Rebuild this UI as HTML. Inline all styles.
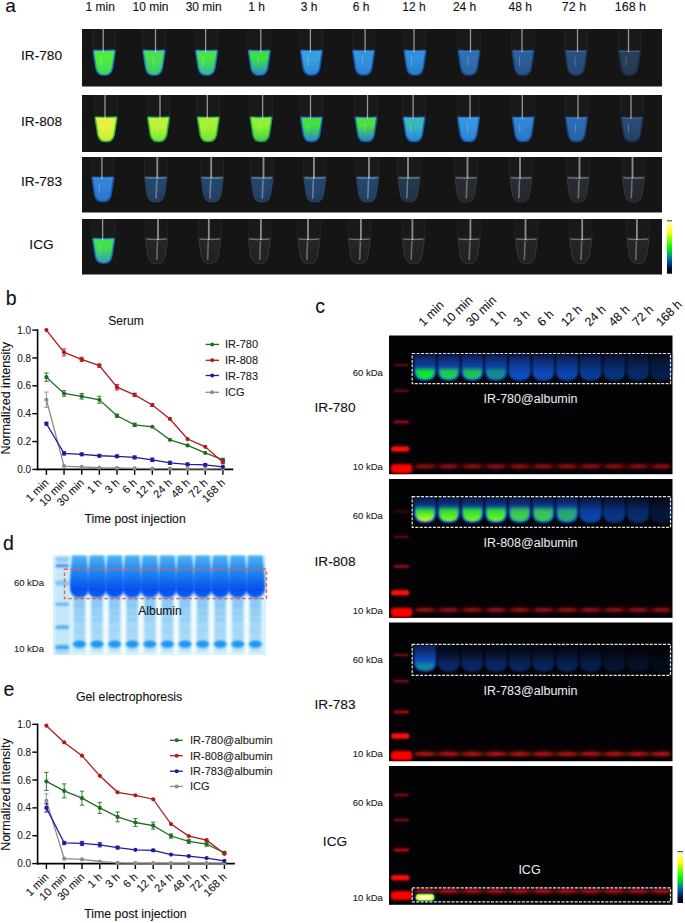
<!DOCTYPE html>
<html><head><meta charset="utf-8"><style>
html,body{margin:0;padding:0;background:#fff;}
body{width:685px;height:923px;overflow:hidden;}
svg{display:block;font-family:"Liberation Sans", sans-serif;}
</style></head><body>
<svg width="685" height="923" viewBox="0 0 685 923">
<defs><filter id="blur1" x="-20%" y="-20%" width="140%" height="140%"><feGaussianBlur stdDeviation="0.9"/></filter><filter id="blur05" x="-20%" y="-20%" width="140%" height="140%"><feGaussianBlur stdDeviation="0.5"/></filter><filter id="blur07" x="-30%" y="-80%" width="160%" height="260%"><feGaussianBlur stdDeviation="0.95"/></filter><filter id="blur2" x="-30%" y="-150%" width="160%" height="400%"><feGaussianBlur stdDeviation="1.6"/></filter><linearGradient id="g0_0" x1="0" y1="0" x2="0" y2="1"><stop offset="0" stop-color="#50ec40"/><stop offset="0.35" stop-color="#50ec40"/><stop offset="1" stop-color="#40d850"/></linearGradient><linearGradient id="g0_1" x1="0" y1="0" x2="0" y2="1"><stop offset="0" stop-color="#48e050"/><stop offset="0.35" stop-color="#48e050"/><stop offset="1" stop-color="#38c870"/></linearGradient><linearGradient id="g0_2" x1="0" y1="0" x2="0" y2="1"><stop offset="0" stop-color="#48e448"/><stop offset="0.35" stop-color="#48e448"/><stop offset="1" stop-color="#30b8a0"/></linearGradient><linearGradient id="g0_3" x1="0" y1="0" x2="0" y2="1"><stop offset="0" stop-color="#38e040"/><stop offset="0.35" stop-color="#38e040"/><stop offset="1" stop-color="#2a8ad0"/></linearGradient><linearGradient id="g0_4" x1="0" y1="0" x2="0" y2="1"><stop offset="0" stop-color="#3aa0e0"/><stop offset="0.35" stop-color="#3aa0e0"/><stop offset="1" stop-color="#2a84d4"/></linearGradient><linearGradient id="g0_5" x1="0" y1="0" x2="0" y2="1"><stop offset="0" stop-color="#3494dc"/><stop offset="0.35" stop-color="#3494dc"/><stop offset="1" stop-color="#2a80d0"/></linearGradient><linearGradient id="g0_6" x1="0" y1="0" x2="0" y2="1"><stop offset="0" stop-color="#3090dc"/><stop offset="0.35" stop-color="#3090dc"/><stop offset="1" stop-color="#2a7ccc"/></linearGradient><linearGradient id="g0_7" x1="0" y1="0" x2="0" y2="1"><stop offset="0" stop-color="#2e70b0"/><stop offset="0.35" stop-color="#2e70b0"/><stop offset="1" stop-color="#2a64a4"/></linearGradient><linearGradient id="g0_8" x1="0" y1="0" x2="0" y2="1"><stop offset="0" stop-color="#2c5e98"/><stop offset="0.35" stop-color="#2c5e98"/><stop offset="1" stop-color="#28548c"/></linearGradient><linearGradient id="g0_9" x1="0" y1="0" x2="0" y2="1"><stop offset="0" stop-color="#2a5080"/><stop offset="0.35" stop-color="#2a5080"/><stop offset="1" stop-color="#264874"/></linearGradient><linearGradient id="g0_10" x1="0" y1="0" x2="0" y2="1"><stop offset="0" stop-color="#283e5c"/><stop offset="0.35" stop-color="#283e5c"/><stop offset="1" stop-color="#243852"/></linearGradient><linearGradient id="g1_0" x1="0" y1="0" x2="0" y2="1"><stop offset="0" stop-color="#e8f040"/><stop offset="0.35" stop-color="#e8f040"/><stop offset="1" stop-color="#c8f030"/></linearGradient><linearGradient id="g1_1" x1="0" y1="0" x2="0" y2="1"><stop offset="0" stop-color="#c0f038"/><stop offset="0.35" stop-color="#c0f038"/><stop offset="1" stop-color="#70e838"/></linearGradient><linearGradient id="g1_2" x1="0" y1="0" x2="0" y2="1"><stop offset="0" stop-color="#a8f030"/><stop offset="0.35" stop-color="#a8f030"/><stop offset="1" stop-color="#70e838"/></linearGradient><linearGradient id="g1_3" x1="0" y1="0" x2="0" y2="1"><stop offset="0" stop-color="#90f030"/><stop offset="0.35" stop-color="#90f030"/><stop offset="1" stop-color="#40d040"/></linearGradient><linearGradient id="g1_4" x1="0" y1="0" x2="0" y2="1"><stop offset="0" stop-color="#40e040"/><stop offset="0.35" stop-color="#40e040"/><stop offset="1" stop-color="#2a88c8"/></linearGradient><linearGradient id="g1_5" x1="0" y1="0" x2="0" y2="1"><stop offset="0" stop-color="#48e040"/><stop offset="0.35" stop-color="#48e040"/><stop offset="1" stop-color="#2a80c8"/></linearGradient><linearGradient id="g1_6" x1="0" y1="0" x2="0" y2="1"><stop offset="0" stop-color="#38b8b8"/><stop offset="0.35" stop-color="#38b8b8"/><stop offset="1" stop-color="#2a84d8"/></linearGradient><linearGradient id="g1_7" x1="0" y1="0" x2="0" y2="1"><stop offset="0" stop-color="#3494e0"/><stop offset="0.35" stop-color="#3494e0"/><stop offset="1" stop-color="#2a80d4"/></linearGradient><linearGradient id="g1_8" x1="0" y1="0" x2="0" y2="1"><stop offset="0" stop-color="#3084d4"/><stop offset="0.35" stop-color="#3084d4"/><stop offset="1" stop-color="#2a74c4"/></linearGradient><linearGradient id="g1_9" x1="0" y1="0" x2="0" y2="1"><stop offset="0" stop-color="#2c6cb4"/><stop offset="0.35" stop-color="#2c6cb4"/><stop offset="1" stop-color="#2860a4"/></linearGradient><linearGradient id="g1_10" x1="0" y1="0" x2="0" y2="1"><stop offset="0" stop-color="#2a4c74"/><stop offset="0.35" stop-color="#2a4c74"/><stop offset="1" stop-color="#243e60"/></linearGradient><linearGradient id="g2_0" x1="0" y1="0" x2="0" y2="1"><stop offset="0" stop-color="#3284d8"/><stop offset="0.35" stop-color="#3284d8"/><stop offset="1" stop-color="#2a74cc"/></linearGradient><linearGradient id="g2_1" x1="0" y1="0" x2="0" y2="1"><stop offset="0" stop-color="#22466e"/><stop offset="0.35" stop-color="#22466e"/><stop offset="1" stop-color="#203e62"/></linearGradient><linearGradient id="g2_2" x1="0" y1="0" x2="0" y2="1"><stop offset="0" stop-color="#22466e"/><stop offset="0.35" stop-color="#22466e"/><stop offset="1" stop-color="#203e62"/></linearGradient><linearGradient id="g2_3" x1="0" y1="0" x2="0" y2="1"><stop offset="0" stop-color="#22466e"/><stop offset="0.35" stop-color="#22466e"/><stop offset="1" stop-color="#203e62"/></linearGradient><linearGradient id="g2_4" x1="0" y1="0" x2="0" y2="1"><stop offset="0" stop-color="#22466e"/><stop offset="0.35" stop-color="#22466e"/><stop offset="1" stop-color="#203e62"/></linearGradient><linearGradient id="g2_5" x1="0" y1="0" x2="0" y2="1"><stop offset="0" stop-color="#22466e"/><stop offset="0.35" stop-color="#22466e"/><stop offset="1" stop-color="#203e62"/></linearGradient><linearGradient id="g2_6" x1="0" y1="0" x2="0" y2="1"><stop offset="0" stop-color="#243850"/><stop offset="0.35" stop-color="#243850"/><stop offset="1" stop-color="#203046"/></linearGradient><linearGradient id="g2_7" x1="0" y1="0" x2="0" y2="1"><stop offset="0" stop-color="#272c32"/><stop offset="0.35" stop-color="#272c32"/><stop offset="1" stop-color="#23272c"/></linearGradient><linearGradient id="g2_8" x1="0" y1="0" x2="0" y2="1"><stop offset="0" stop-color="#272c32"/><stop offset="0.35" stop-color="#272c32"/><stop offset="1" stop-color="#23272c"/></linearGradient><linearGradient id="g2_9" x1="0" y1="0" x2="0" y2="1"><stop offset="0" stop-color="#272c32"/><stop offset="0.35" stop-color="#272c32"/><stop offset="1" stop-color="#23272c"/></linearGradient><linearGradient id="g2_10" x1="0" y1="0" x2="0" y2="1"><stop offset="0" stop-color="#272c32"/><stop offset="0.35" stop-color="#272c32"/><stop offset="1" stop-color="#23272c"/></linearGradient><linearGradient id="g3_0" x1="0" y1="0" x2="0" y2="1"><stop offset="0" stop-color="#40e050"/><stop offset="0.35" stop-color="#40e050"/><stop offset="1" stop-color="#30a0b0"/></linearGradient><linearGradient id="g3_1" x1="0" y1="0" x2="0" y2="1"><stop offset="0" stop-color="#242528"/><stop offset="0.35" stop-color="#242528"/><stop offset="1" stop-color="#212224"/></linearGradient><linearGradient id="g3_2" x1="0" y1="0" x2="0" y2="1"><stop offset="0" stop-color="#242528"/><stop offset="0.35" stop-color="#242528"/><stop offset="1" stop-color="#212224"/></linearGradient><linearGradient id="g3_3" x1="0" y1="0" x2="0" y2="1"><stop offset="0" stop-color="#242528"/><stop offset="0.35" stop-color="#242528"/><stop offset="1" stop-color="#212224"/></linearGradient><linearGradient id="g3_4" x1="0" y1="0" x2="0" y2="1"><stop offset="0" stop-color="#242528"/><stop offset="0.35" stop-color="#242528"/><stop offset="1" stop-color="#212224"/></linearGradient><linearGradient id="g3_5" x1="0" y1="0" x2="0" y2="1"><stop offset="0" stop-color="#242528"/><stop offset="0.35" stop-color="#242528"/><stop offset="1" stop-color="#212224"/></linearGradient><linearGradient id="g3_6" x1="0" y1="0" x2="0" y2="1"><stop offset="0" stop-color="#242528"/><stop offset="0.35" stop-color="#242528"/><stop offset="1" stop-color="#212224"/></linearGradient><linearGradient id="g3_7" x1="0" y1="0" x2="0" y2="1"><stop offset="0" stop-color="#242528"/><stop offset="0.35" stop-color="#242528"/><stop offset="1" stop-color="#212224"/></linearGradient><linearGradient id="g3_8" x1="0" y1="0" x2="0" y2="1"><stop offset="0" stop-color="#242528"/><stop offset="0.35" stop-color="#242528"/><stop offset="1" stop-color="#212224"/></linearGradient><linearGradient id="g3_9" x1="0" y1="0" x2="0" y2="1"><stop offset="0" stop-color="#242528"/><stop offset="0.35" stop-color="#242528"/><stop offset="1" stop-color="#212224"/></linearGradient><linearGradient id="g3_10" x1="0" y1="0" x2="0" y2="1"><stop offset="0" stop-color="#242528"/><stop offset="0.35" stop-color="#242528"/><stop offset="1" stop-color="#212224"/></linearGradient><linearGradient id="cbar" x1="0" y1="0" x2="0" y2="1"><stop offset="0" stop-color="#fffff0"/><stop offset="0.22" stop-color="#ffff00"/><stop offset="0.5" stop-color="#00ff00"/><stop offset="0.66" stop-color="#00a070"/><stop offset="0.76" stop-color="#0050b0"/><stop offset="0.9" stop-color="#001040"/><stop offset="1" stop-color="#000000"/></linearGradient><linearGradient id="dband" x1="0" y1="0" x2="0" y2="1"><stop offset="0" stop-color="#50b2f2"/><stop offset="0.25" stop-color="#3094f0"/><stop offset="0.5" stop-color="#1a78f0"/><stop offset="0.8" stop-color="#0650ee"/><stop offset="1" stop-color="#0a5af0"/></linearGradient><linearGradient id="dlow" x1="0" y1="0" x2="0" y2="1"><stop offset="0" stop-color="#64b8f2"/><stop offset="0.15" stop-color="#90ccf4"/><stop offset="0.5" stop-color="#a6d8f6"/><stop offset="0.75" stop-color="#a8daf6"/><stop offset="1" stop-color="#c0e6f8"/></linearGradient><filter id="dblur" x="-30%" y="-10%" width="160%" height="120%"><feGaussianBlur stdDeviation="0.8"/></filter><filter id="lblur" x="-20%" y="-20%" width="140%" height="140%"><feGaussianBlur stdDeviation="1.0"/></filter><linearGradient id="laneg2" x1="0" y1="0" x2="0" y2="1"><stop offset="0" stop-color="#081a40"/><stop offset="0.3" stop-color="#0a3284"/><stop offset="0.5" stop-color="#0a4cc4"/><stop offset="0.8" stop-color="#0a56d0"/><stop offset="1" stop-color="#0a4cc0"/></linearGradient><linearGradient id="laneg3" x1="0" y1="0" x2="0" y2="1"><stop offset="0" stop-color="#030610"/><stop offset="0.35" stop-color="#081a44"/><stop offset="0.7" stop-color="#0a3e9c"/><stop offset="1" stop-color="#0a40a4"/></linearGradient><linearGradient id="laneg" x1="0" y1="0" x2="0" y2="1"><stop offset="0" stop-color="#081c48"/><stop offset="0.3" stop-color="#0a3688"/><stop offset="0.6" stop-color="#0a4cc0"/><stop offset="0.8" stop-color="#0a54cc"/><stop offset="1" stop-color="#0a4cc0"/></linearGradient><linearGradient id="gg0_0" x1="0" y1="0" x2="0" y2="1"><stop offset="0" stop-color="#10f020" stop-opacity="0"/><stop offset="0.35" stop-color="#10f020" stop-opacity="0.9"/><stop offset="1" stop-color="#10f020"/></linearGradient><linearGradient id="gg0_1" x1="0" y1="0" x2="0" y2="1"><stop offset="0" stop-color="#20ec30" stop-opacity="0"/><stop offset="0.35" stop-color="#20ec30" stop-opacity="0.9"/><stop offset="1" stop-color="#20ec30"/></linearGradient><linearGradient id="gg0_2" x1="0" y1="0" x2="0" y2="1"><stop offset="0" stop-color="#20e830" stop-opacity="0"/><stop offset="0.35" stop-color="#20e830" stop-opacity="0.9"/><stop offset="1" stop-color="#20e830"/></linearGradient><linearGradient id="gg0_3" x1="0" y1="0" x2="0" y2="1"><stop offset="0" stop-color="#20d040" stop-opacity="0"/><stop offset="0.35" stop-color="#20d040" stop-opacity="0.9"/><stop offset="1" stop-color="#20d040"/></linearGradient><linearGradient id="gg1_0" x1="0" y1="0" x2="0" y2="1"><stop offset="0" stop-color="#30f020" stop-opacity="0"/><stop offset="0.35" stop-color="#30f020" stop-opacity="0.9"/><stop offset="1" stop-color="#e0fa18"/></linearGradient><linearGradient id="gg1_1" x1="0" y1="0" x2="0" y2="1"><stop offset="0" stop-color="#30f020" stop-opacity="0"/><stop offset="0.35" stop-color="#30f020" stop-opacity="0.9"/><stop offset="1" stop-color="#90f818"/></linearGradient><linearGradient id="gg1_2" x1="0" y1="0" x2="0" y2="1"><stop offset="0" stop-color="#30f020" stop-opacity="0"/><stop offset="0.35" stop-color="#30f020" stop-opacity="0.9"/><stop offset="1" stop-color="#80f818"/></linearGradient><linearGradient id="gg1_3" x1="0" y1="0" x2="0" y2="1"><stop offset="0" stop-color="#30f020" stop-opacity="0"/><stop offset="0.35" stop-color="#30f020" stop-opacity="0.9"/><stop offset="1" stop-color="#80f818"/></linearGradient><linearGradient id="gg1_4" x1="0" y1="0" x2="0" y2="1"><stop offset="0" stop-color="#48ec28" stop-opacity="0"/><stop offset="0.35" stop-color="#48ec28" stop-opacity="0.9"/><stop offset="1" stop-color="#48ec28"/></linearGradient><linearGradient id="gg1_5" x1="0" y1="0" x2="0" y2="1"><stop offset="0" stop-color="#48ec28" stop-opacity="0"/><stop offset="0.35" stop-color="#48ec28" stop-opacity="0.9"/><stop offset="1" stop-color="#48ec28"/></linearGradient><linearGradient id="gg1_6" x1="0" y1="0" x2="0" y2="1"><stop offset="0" stop-color="#38e038" stop-opacity="0"/><stop offset="0.35" stop-color="#38e038" stop-opacity="0.9"/><stop offset="1" stop-color="#38e038"/></linearGradient><linearGradient id="gg2_0" x1="0" y1="0" x2="0" y2="1"><stop offset="0" stop-color="#18b070" stop-opacity="0"/><stop offset="0.35" stop-color="#18b070" stop-opacity="0.9"/><stop offset="1" stop-color="#18b070"/></linearGradient><radialGradient id="icg" cx="0.5" cy="0.5" r="0.5"><stop offset="0" stop-color="#ffffd0"/><stop offset="0.45" stop-color="#f0ff20"/><stop offset="0.75" stop-color="#30e020"/><stop offset="1" stop-color="#0040a0" stop-opacity="0"/></radialGradient></defs>
<text x="5.3" y="11.9" font-size="19" text-anchor="start" fill="#111" stroke="#111" stroke-width="0.1" >a</text>
<text x="100.2" y="11" font-size="12" text-anchor="middle" fill="#111" stroke="#111" stroke-width="0.1" >1 min</text>
<text x="150.5" y="11" font-size="12" text-anchor="middle" fill="#111" stroke="#111" stroke-width="0.1" >10 min</text>
<text x="203.7" y="11" font-size="12" text-anchor="middle" fill="#111" stroke="#111" stroke-width="0.1" >30 min</text>
<text x="256.7" y="11" font-size="12" text-anchor="middle" fill="#111" stroke="#111" stroke-width="0.1" >1 h</text>
<text x="309" y="11" font-size="12" text-anchor="middle" fill="#111" stroke="#111" stroke-width="0.1" >3 h</text>
<text x="361.2" y="11" font-size="12" text-anchor="middle" fill="#111" stroke="#111" stroke-width="0.1" >6 h</text>
<text x="414" y="11" font-size="12" text-anchor="middle" fill="#111" stroke="#111" stroke-width="0.1" >12 h</text>
<text x="464.6" y="11" font-size="12" text-anchor="middle" fill="#111" stroke="#111" stroke-width="0.1" >24 h</text>
<text x="520.2" y="11" font-size="12" text-anchor="middle" fill="#111" stroke="#111" stroke-width="0.1" >48 h</text>
<text x="574" y="11" font-size="12.5" text-anchor="middle" fill="#111" stroke="#111" stroke-width="0.1" >72 h</text>
<text x="630.4" y="11" font-size="12.5" text-anchor="middle" fill="#111" stroke="#111" stroke-width="0.1" >168 h</text>
<text x="41.5" y="60.4" font-size="13.7" text-anchor="middle" fill="#111" stroke="#111" stroke-width="0.1" >IR-780</text>
<text x="41.5" y="125.6" font-size="13.7" text-anchor="middle" fill="#111" stroke="#111" stroke-width="0.1" >IR-808</text>
<text x="41.5" y="186" font-size="13.7" text-anchor="middle" fill="#111" stroke="#111" stroke-width="0.1" >IR-783</text>
<text x="41.5" y="249" font-size="13.7" text-anchor="middle" fill="#111" stroke="#111" stroke-width="0.1" >ICG</text>
<rect x="82" y="29" width="580" height="57.5" fill="#151515"/>
<path d="M92.4,29 L92.4,50 L116.0,50 L116.0,29 Z" fill="#ffffff" opacity="0.02"/>
<line x1="92.9" y1="29" x2="92.9" y2="52" stroke="#fff" stroke-opacity="0.04" stroke-width="1.2"/>
<line x1="115.5" y1="29" x2="115.5" y2="52" stroke="#fff" stroke-opacity="0.04" stroke-width="1.2"/>
<g filter="url(#blur05)"><path d="M94.60000000000001,50.3 Q104.2,51.099999999999994 113.8,50.3 Q115.0,50.3 114.9,51.8 L112.4,68 Q110.8,75.3 104.2,75 Q97.60000000000001,75.3 96.0,68 L93.5,51.8 Q93.4,50.3 94.60000000000001,50.3 Z" fill="url(#g0_0)" stroke="#2080d0" stroke-width="1.7" stroke-opacity="0.85"/>
<path d="M94.4,51.199999999999996 Q104.2,52.0 114.0,51.199999999999996" fill="none" stroke="#ffffff" stroke-opacity="0.2" stroke-width="1"/></g>
<line x1="103.2" y1="29" x2="103.2" y2="52" stroke="#ffffff" stroke-opacity="0.55" stroke-width="1.3"/>
<line x1="100.7" y1="57" x2="100.7" y2="66" stroke="#ffffff" stroke-opacity="0.25" stroke-width="0.9"/>
<path d="M142.2,29 L142.2,50 L165.8,50 L165.8,29 Z" fill="#ffffff" opacity="0.02"/>
<line x1="142.7" y1="29" x2="142.7" y2="52" stroke="#fff" stroke-opacity="0.04" stroke-width="1.2"/>
<line x1="165.3" y1="29" x2="165.3" y2="52" stroke="#fff" stroke-opacity="0.04" stroke-width="1.2"/>
<g filter="url(#blur05)"><path d="M144.39999999999998,50.3 Q154,51.099999999999994 163.60000000000002,50.3 Q164.8,50.3 164.70000000000002,51.8 L162.20000000000002,68 Q160.60000000000002,75.3 154,75 Q147.39999999999998,75.3 145.79999999999998,68 L143.29999999999998,51.8 Q143.2,50.3 144.39999999999998,50.3 Z" fill="url(#g0_1)" stroke="#2080d0" stroke-width="1.7" stroke-opacity="0.85"/>
<path d="M144.2,51.199999999999996 Q154,52.0 163.8,51.199999999999996" fill="none" stroke="#ffffff" stroke-opacity="0.2" stroke-width="1"/></g>
<line x1="155.5" y1="29" x2="155.5" y2="52" stroke="#ffffff" stroke-opacity="0.55" stroke-width="1.3"/>
<line x1="153.0" y1="57" x2="153.0" y2="66" stroke="#ffffff" stroke-opacity="0.25" stroke-width="0.9"/>
<path d="M194.79999999999998,29 L194.79999999999998,50 L218.4,50 L218.4,29 Z" fill="#ffffff" opacity="0.02"/>
<line x1="195.29999999999998" y1="29" x2="195.29999999999998" y2="52" stroke="#fff" stroke-opacity="0.04" stroke-width="1.2"/>
<line x1="217.9" y1="29" x2="217.9" y2="52" stroke="#fff" stroke-opacity="0.04" stroke-width="1.2"/>
<g filter="url(#blur05)"><path d="M196.99999999999997,50.3 Q206.6,51.099999999999994 216.20000000000002,50.3 Q217.4,50.3 217.3,51.8 L214.8,68 Q213.20000000000002,75.3 206.6,75 Q199.99999999999997,75.3 198.39999999999998,68 L195.89999999999998,51.8 Q195.79999999999998,50.3 196.99999999999997,50.3 Z" fill="url(#g0_2)" stroke="#2078d0" stroke-width="1.7" stroke-opacity="0.85"/>
<path d="M196.79999999999998,51.199999999999996 Q206.6,52.0 216.4,51.199999999999996" fill="none" stroke="#ffffff" stroke-opacity="0.2" stroke-width="1"/></g>
<line x1="205.6" y1="29" x2="205.6" y2="52" stroke="#ffffff" stroke-opacity="0.55" stroke-width="1.3"/>
<line x1="203.1" y1="57" x2="203.1" y2="66" stroke="#ffffff" stroke-opacity="0.25" stroke-width="0.9"/>
<path d="M247.5,29 L247.5,50 L271.1,50 L271.1,29 Z" fill="#ffffff" opacity="0.02"/>
<line x1="248.0" y1="29" x2="248.0" y2="52" stroke="#fff" stroke-opacity="0.04" stroke-width="1.2"/>
<line x1="270.6" y1="29" x2="270.6" y2="52" stroke="#fff" stroke-opacity="0.04" stroke-width="1.2"/>
<g filter="url(#blur05)"><path d="M249.7,50.3 Q259.3,51.099999999999994 268.90000000000003,50.3 Q270.1,50.3 270.0,51.8 L267.5,68 Q265.90000000000003,75.3 259.3,75 Q252.7,75.3 251.1,68 L248.6,51.8 Q248.5,50.3 249.7,50.3 Z" fill="url(#g0_3)" stroke="#1e6cc8" stroke-width="1.7" stroke-opacity="0.85"/>
<path d="M249.5,51.199999999999996 Q259.3,52.0 269.1,51.199999999999996" fill="none" stroke="#ffffff" stroke-opacity="0.2" stroke-width="1"/></g>
<line x1="260.8" y1="29" x2="260.8" y2="52" stroke="#ffffff" stroke-opacity="0.55" stroke-width="1.3"/>
<line x1="258.3" y1="57" x2="258.3" y2="66" stroke="#ffffff" stroke-opacity="0.25" stroke-width="0.9"/>
<path d="M299.59999999999997,29 L299.59999999999997,50 L323.2,50 L323.2,29 Z" fill="#ffffff" opacity="0.02"/>
<line x1="300.09999999999997" y1="29" x2="300.09999999999997" y2="52" stroke="#fff" stroke-opacity="0.04" stroke-width="1.2"/>
<line x1="322.7" y1="29" x2="322.7" y2="52" stroke="#fff" stroke-opacity="0.04" stroke-width="1.2"/>
<g filter="url(#blur05)"><path d="M301.79999999999995,50.3 Q311.4,51.099999999999994 321.0,50.3 Q322.2,50.3 322.09999999999997,51.8 L319.59999999999997,68 Q318.0,75.3 311.4,75 Q304.79999999999995,75.3 303.2,68 L300.7,51.8 Q300.59999999999997,50.3 301.79999999999995,50.3 Z" fill="url(#g0_4)" stroke="#1a5cb8" stroke-width="1.7" stroke-opacity="0.85"/>
<path d="M301.59999999999997,51.199999999999996 Q311.4,52.0 321.2,51.199999999999996" fill="none" stroke="#ffffff" stroke-opacity="0.2" stroke-width="1"/></g>
<line x1="310.4" y1="29" x2="310.4" y2="52" stroke="#ffffff" stroke-opacity="0.55" stroke-width="1.3"/>
<line x1="307.9" y1="57" x2="307.9" y2="66" stroke="#ffffff" stroke-opacity="0.25" stroke-width="0.9"/>
<path d="M351.8,29 L351.8,50 L375.40000000000003,50 L375.40000000000003,29 Z" fill="#ffffff" opacity="0.02"/>
<line x1="352.3" y1="29" x2="352.3" y2="52" stroke="#fff" stroke-opacity="0.04" stroke-width="1.2"/>
<line x1="374.90000000000003" y1="29" x2="374.90000000000003" y2="52" stroke="#fff" stroke-opacity="0.04" stroke-width="1.2"/>
<g filter="url(#blur05)"><path d="M354.0,50.3 Q363.6,51.099999999999994 373.20000000000005,50.3 Q374.40000000000003,50.3 374.3,51.8 L371.8,68 Q370.20000000000005,75.3 363.6,75 Q357.0,75.3 355.40000000000003,68 L352.90000000000003,51.8 Q352.8,50.3 354.0,50.3 Z" fill="url(#g0_5)" stroke="#1a58b0" stroke-width="1.7" stroke-opacity="0.85"/>
<path d="M353.8,51.199999999999996 Q363.6,52.0 373.40000000000003,51.199999999999996" fill="none" stroke="#ffffff" stroke-opacity="0.2" stroke-width="1"/></g>
<line x1="365.1" y1="29" x2="365.1" y2="52" stroke="#ffffff" stroke-opacity="0.55" stroke-width="1.3"/>
<line x1="362.6" y1="57" x2="362.6" y2="66" stroke="#ffffff" stroke-opacity="0.25" stroke-width="0.9"/>
<path d="M403.2,29 L403.2,50 L426.8,50 L426.8,29 Z" fill="#ffffff" opacity="0.02"/>
<line x1="403.7" y1="29" x2="403.7" y2="52" stroke="#fff" stroke-opacity="0.04" stroke-width="1.2"/>
<line x1="426.3" y1="29" x2="426.3" y2="52" stroke="#fff" stroke-opacity="0.04" stroke-width="1.2"/>
<g filter="url(#blur05)"><path d="M405.4,50.3 Q415,51.099999999999994 424.6,50.3 Q425.8,50.3 425.7,51.8 L423.2,68 Q421.6,75.3 415,75 Q408.4,75.3 406.8,68 L404.3,51.8 Q404.2,50.3 405.4,50.3 Z" fill="url(#g0_6)" stroke="#1a58b0" stroke-width="1.7" stroke-opacity="0.85"/>
<path d="M405.2,51.199999999999996 Q415,52.0 424.8,51.199999999999996" fill="none" stroke="#ffffff" stroke-opacity="0.2" stroke-width="1"/></g>
<line x1="414" y1="29" x2="414" y2="52" stroke="#ffffff" stroke-opacity="0.55" stroke-width="1.3"/>
<line x1="411.5" y1="57" x2="411.5" y2="66" stroke="#ffffff" stroke-opacity="0.25" stroke-width="0.9"/>
<path d="M457.2,29 L457.2,50 L480.8,50 L480.8,29 Z" fill="#ffffff" opacity="0.02"/>
<line x1="457.7" y1="29" x2="457.7" y2="52" stroke="#fff" stroke-opacity="0.04" stroke-width="1.2"/>
<line x1="480.3" y1="29" x2="480.3" y2="52" stroke="#fff" stroke-opacity="0.04" stroke-width="1.2"/>
<g filter="url(#blur05)"><path d="M459.4,50.3 Q469,51.099999999999994 478.6,50.3 Q479.8,50.3 479.7,51.8 L477.2,68 Q475.6,75.3 469,75 Q462.4,75.3 460.8,68 L458.3,51.8 Q458.2,50.3 459.4,50.3 Z" fill="url(#g0_7)" stroke="#1c4a88" stroke-width="1.7" stroke-opacity="0.85"/>
<path d="M459.2,51.199999999999996 Q469,52.0 478.8,51.199999999999996" fill="none" stroke="#ffffff" stroke-opacity="0.2" stroke-width="1"/></g>
<line x1="470.5" y1="29" x2="470.5" y2="52" stroke="#ffffff" stroke-opacity="0.55" stroke-width="1.3"/>
<line x1="468.0" y1="57" x2="468.0" y2="66" stroke="#ffffff" stroke-opacity="0.25" stroke-width="0.9"/>
<path d="M511.20000000000005,29 L511.20000000000005,50 L534.8,50 L534.8,29 Z" fill="#ffffff" opacity="0.02"/>
<line x1="511.70000000000005" y1="29" x2="511.70000000000005" y2="52" stroke="#fff" stroke-opacity="0.04" stroke-width="1.2"/>
<line x1="534.3" y1="29" x2="534.3" y2="52" stroke="#fff" stroke-opacity="0.04" stroke-width="1.2"/>
<g filter="url(#blur05)"><path d="M513.4000000000001,50.3 Q523,51.099999999999994 532.5999999999999,50.3 Q533.8,50.3 533.6999999999999,51.8 L531.1999999999999,68 Q529.5999999999999,75.3 523,75 Q516.4000000000001,75.3 514.8000000000001,68 L512.3000000000001,51.8 Q512.2,50.3 513.4000000000001,50.3 Z" fill="url(#g0_8)" stroke="#1c4278" stroke-width="1.7" stroke-opacity="0.85"/>
<path d="M513.2,51.199999999999996 Q523,52.0 532.8,51.199999999999996" fill="none" stroke="#ffffff" stroke-opacity="0.2" stroke-width="1"/></g>
<line x1="522" y1="29" x2="522" y2="52" stroke="#ffffff" stroke-opacity="0.55" stroke-width="1.3"/>
<line x1="519.5" y1="57" x2="519.5" y2="66" stroke="#ffffff" stroke-opacity="0.25" stroke-width="0.9"/>
<path d="M564.2,29 L564.2,50 L587.8,50 L587.8,29 Z" fill="#ffffff" opacity="0.02"/>
<line x1="564.7" y1="29" x2="564.7" y2="52" stroke="#fff" stroke-opacity="0.04" stroke-width="1.2"/>
<line x1="587.3" y1="29" x2="587.3" y2="52" stroke="#fff" stroke-opacity="0.04" stroke-width="1.2"/>
<g filter="url(#blur05)"><path d="M566.4000000000001,50.3 Q576,51.099999999999994 585.5999999999999,50.3 Q586.8,50.3 586.6999999999999,51.8 L584.1999999999999,68 Q582.5999999999999,75.3 576,75 Q569.4000000000001,75.3 567.8000000000001,68 L565.3000000000001,51.8 Q565.2,50.3 566.4000000000001,50.3 Z" fill="url(#g0_9)" stroke="#1c3a68" stroke-width="1.7" stroke-opacity="0.85"/>
<path d="M566.2,51.199999999999996 Q576,52.0 585.8,51.199999999999996" fill="none" stroke="#ffffff" stroke-opacity="0.2" stroke-width="1"/></g>
<line x1="577.5" y1="29" x2="577.5" y2="52" stroke="#ffffff" stroke-opacity="0.55" stroke-width="1.3"/>
<line x1="575.0" y1="57" x2="575.0" y2="66" stroke="#ffffff" stroke-opacity="0.25" stroke-width="0.9"/>
<path d="M617.7,29 L617.7,50 L641.3,50 L641.3,29 Z" fill="#ffffff" opacity="0.02"/>
<line x1="618.2" y1="29" x2="618.2" y2="52" stroke="#fff" stroke-opacity="0.04" stroke-width="1.2"/>
<line x1="640.8" y1="29" x2="640.8" y2="52" stroke="#fff" stroke-opacity="0.04" stroke-width="1.2"/>
<g filter="url(#blur05)"><path d="M619.9000000000001,50.3 Q629.5,51.099999999999994 639.0999999999999,50.3 Q640.3,50.3 640.1999999999999,51.8 L637.6999999999999,68 Q636.0999999999999,75.3 629.5,75 Q622.9000000000001,75.3 621.3000000000001,68 L618.8000000000001,51.8 Q618.7,50.3 619.9000000000001,50.3 Z" fill="url(#g0_10)" stroke="#1c3048" stroke-width="1.7" stroke-opacity="0.85"/>
<path d="M619.7,51.199999999999996 Q629.5,52.0 639.3,51.199999999999996" fill="none" stroke="#ffffff" stroke-opacity="0.2" stroke-width="1"/></g>
<line x1="628.5" y1="29" x2="628.5" y2="52" stroke="#ffffff" stroke-opacity="0.55" stroke-width="1.3"/>
<line x1="626.0" y1="57" x2="626.0" y2="66" stroke="#ffffff" stroke-opacity="0.25" stroke-width="0.9"/>
<rect x="82" y="95" width="580" height="57" fill="#151515"/>
<path d="M94.2,95 L94.2,116.7 L117.8,116.7 L117.8,95 Z" fill="#ffffff" opacity="0.02"/>
<line x1="94.7" y1="95" x2="94.7" y2="118.7" stroke="#fff" stroke-opacity="0.04" stroke-width="1.2"/>
<line x1="117.3" y1="95" x2="117.3" y2="118.7" stroke="#fff" stroke-opacity="0.04" stroke-width="1.2"/>
<g filter="url(#blur05)"><path d="M96.4,117.0 Q106,117.8 115.6,117.0 Q116.8,117.0 116.7,118.5 L114.2,134.5 Q112.6,141.8 106,141.5 Q99.4,141.8 97.8,134.5 L95.3,118.5 Q95.2,117.0 96.4,117.0 Z" fill="url(#g1_0)" stroke="#30c040" stroke-width="1.7" stroke-opacity="0.85"/>
<path d="M96.2,117.9 Q106,118.7 115.8,117.9" fill="none" stroke="#ffffff" stroke-opacity="0.2" stroke-width="1"/></g>
<line x1="105" y1="95" x2="105" y2="118.7" stroke="#ffffff" stroke-opacity="0.55" stroke-width="1.3"/>
<line x1="102.5" y1="123.7" x2="102.5" y2="132.7" stroke="#ffffff" stroke-opacity="0.25" stroke-width="0.9"/>
<path d="M146.7,95 L146.7,116.7 L170.3,116.7 L170.3,95 Z" fill="#ffffff" opacity="0.02"/>
<line x1="147.2" y1="95" x2="147.2" y2="118.7" stroke="#fff" stroke-opacity="0.04" stroke-width="1.2"/>
<line x1="169.8" y1="95" x2="169.8" y2="118.7" stroke="#fff" stroke-opacity="0.04" stroke-width="1.2"/>
<g filter="url(#blur05)"><path d="M148.89999999999998,117.0 Q158.5,117.8 168.10000000000002,117.0 Q169.3,117.0 169.20000000000002,118.5 L166.70000000000002,134.5 Q165.10000000000002,141.8 158.5,141.5 Q151.89999999999998,141.8 150.29999999999998,134.5 L147.79999999999998,118.5 Q147.7,117.0 148.89999999999998,117.0 Z" fill="url(#g1_1)" stroke="#28b048" stroke-width="1.7" stroke-opacity="0.85"/>
<path d="M148.7,117.9 Q158.5,118.7 168.3,117.9" fill="none" stroke="#ffffff" stroke-opacity="0.2" stroke-width="1"/></g>
<line x1="160.0" y1="95" x2="160.0" y2="118.7" stroke="#ffffff" stroke-opacity="0.55" stroke-width="1.3"/>
<line x1="157.5" y1="123.7" x2="157.5" y2="132.7" stroke="#ffffff" stroke-opacity="0.25" stroke-width="0.9"/>
<path d="M196.5,95 L196.5,116.7 L220.10000000000002,116.7 L220.10000000000002,95 Z" fill="#ffffff" opacity="0.02"/>
<line x1="197.0" y1="95" x2="197.0" y2="118.7" stroke="#fff" stroke-opacity="0.04" stroke-width="1.2"/>
<line x1="219.60000000000002" y1="95" x2="219.60000000000002" y2="118.7" stroke="#fff" stroke-opacity="0.04" stroke-width="1.2"/>
<g filter="url(#blur05)"><path d="M198.7,117.0 Q208.3,117.8 217.90000000000003,117.0 Q219.10000000000002,117.0 219.00000000000003,118.5 L216.50000000000003,134.5 Q214.90000000000003,141.8 208.3,141.5 Q201.7,141.8 200.1,134.5 L197.6,118.5 Q197.5,117.0 198.7,117.0 Z" fill="url(#g1_2)" stroke="#28b048" stroke-width="1.7" stroke-opacity="0.85"/>
<path d="M198.5,117.9 Q208.3,118.7 218.10000000000002,117.9" fill="none" stroke="#ffffff" stroke-opacity="0.2" stroke-width="1"/></g>
<line x1="207.3" y1="95" x2="207.3" y2="118.7" stroke="#ffffff" stroke-opacity="0.55" stroke-width="1.3"/>
<line x1="204.8" y1="123.7" x2="204.8" y2="132.7" stroke="#ffffff" stroke-opacity="0.25" stroke-width="0.9"/>
<path d="M249.3,95 L249.3,116.7 L272.90000000000003,116.7 L272.90000000000003,95 Z" fill="#ffffff" opacity="0.02"/>
<line x1="249.8" y1="95" x2="249.8" y2="118.7" stroke="#fff" stroke-opacity="0.04" stroke-width="1.2"/>
<line x1="272.40000000000003" y1="95" x2="272.40000000000003" y2="118.7" stroke="#fff" stroke-opacity="0.04" stroke-width="1.2"/>
<g filter="url(#blur05)"><path d="M251.5,117.0 Q261.1,117.8 270.70000000000005,117.0 Q271.90000000000003,117.0 271.8,118.5 L269.3,134.5 Q267.70000000000005,141.8 261.1,141.5 Q254.5,141.8 252.9,134.5 L250.4,118.5 Q250.3,117.0 251.5,117.0 Z" fill="url(#g1_3)" stroke="#20a060" stroke-width="1.7" stroke-opacity="0.85"/>
<path d="M251.3,117.9 Q261.1,118.7 270.90000000000003,117.9" fill="none" stroke="#ffffff" stroke-opacity="0.2" stroke-width="1"/></g>
<line x1="262.6" y1="95" x2="262.6" y2="118.7" stroke="#ffffff" stroke-opacity="0.55" stroke-width="1.3"/>
<line x1="260.1" y1="123.7" x2="260.1" y2="132.7" stroke="#ffffff" stroke-opacity="0.25" stroke-width="0.9"/>
<path d="M299.7,95 L299.7,116.7 L323.3,116.7 L323.3,95 Z" fill="#ffffff" opacity="0.02"/>
<line x1="300.2" y1="95" x2="300.2" y2="118.7" stroke="#fff" stroke-opacity="0.04" stroke-width="1.2"/>
<line x1="322.8" y1="95" x2="322.8" y2="118.7" stroke="#fff" stroke-opacity="0.04" stroke-width="1.2"/>
<g filter="url(#blur05)"><path d="M301.9,117.0 Q311.5,117.8 321.1,117.0 Q322.3,117.0 322.2,118.5 L319.7,134.5 Q318.1,141.8 311.5,141.5 Q304.9,141.8 303.3,134.5 L300.8,118.5 Q300.7,117.0 301.9,117.0 Z" fill="url(#g1_4)" stroke="#1a60c0" stroke-width="1.7" stroke-opacity="0.85"/>
<path d="M301.7,117.9 Q311.5,118.7 321.3,117.9" fill="none" stroke="#ffffff" stroke-opacity="0.2" stroke-width="1"/></g>
<line x1="310.5" y1="95" x2="310.5" y2="118.7" stroke="#ffffff" stroke-opacity="0.55" stroke-width="1.3"/>
<line x1="308.0" y1="123.7" x2="308.0" y2="132.7" stroke="#ffffff" stroke-opacity="0.25" stroke-width="0.9"/>
<path d="M354.2,95 L354.2,116.7 L377.8,116.7 L377.8,95 Z" fill="#ffffff" opacity="0.02"/>
<line x1="354.7" y1="95" x2="354.7" y2="118.7" stroke="#fff" stroke-opacity="0.04" stroke-width="1.2"/>
<line x1="377.3" y1="95" x2="377.3" y2="118.7" stroke="#fff" stroke-opacity="0.04" stroke-width="1.2"/>
<g filter="url(#blur05)"><path d="M356.4,117.0 Q366,117.8 375.6,117.0 Q376.8,117.0 376.7,118.5 L374.2,134.5 Q372.6,141.8 366,141.5 Q359.4,141.8 357.8,134.5 L355.3,118.5 Q355.2,117.0 356.4,117.0 Z" fill="url(#g1_5)" stroke="#1a60c0" stroke-width="1.7" stroke-opacity="0.85"/>
<path d="M356.2,117.9 Q366,118.7 375.8,117.9" fill="none" stroke="#ffffff" stroke-opacity="0.2" stroke-width="1"/></g>
<line x1="367.5" y1="95" x2="367.5" y2="118.7" stroke="#ffffff" stroke-opacity="0.55" stroke-width="1.3"/>
<line x1="365.0" y1="123.7" x2="365.0" y2="132.7" stroke="#ffffff" stroke-opacity="0.25" stroke-width="0.9"/>
<path d="M402.3,95 L402.3,116.7 L425.90000000000003,116.7 L425.90000000000003,95 Z" fill="#ffffff" opacity="0.02"/>
<line x1="402.8" y1="95" x2="402.8" y2="118.7" stroke="#fff" stroke-opacity="0.04" stroke-width="1.2"/>
<line x1="425.40000000000003" y1="95" x2="425.40000000000003" y2="118.7" stroke="#fff" stroke-opacity="0.04" stroke-width="1.2"/>
<g filter="url(#blur05)"><path d="M404.5,117.0 Q414.1,117.8 423.70000000000005,117.0 Q424.90000000000003,117.0 424.8,118.5 L422.3,134.5 Q420.70000000000005,141.8 414.1,141.5 Q407.5,141.8 405.90000000000003,134.5 L403.40000000000003,118.5 Q403.3,117.0 404.5,117.0 Z" fill="url(#g1_6)" stroke="#1a5cc0" stroke-width="1.7" stroke-opacity="0.85"/>
<path d="M404.3,117.9 Q414.1,118.7 423.90000000000003,117.9" fill="none" stroke="#ffffff" stroke-opacity="0.2" stroke-width="1"/></g>
<line x1="413.1" y1="95" x2="413.1" y2="118.7" stroke="#ffffff" stroke-opacity="0.55" stroke-width="1.3"/>
<line x1="410.6" y1="123.7" x2="410.6" y2="132.7" stroke="#ffffff" stroke-opacity="0.25" stroke-width="0.9"/>
<path d="M456.7,95 L456.7,116.7 L480.3,116.7 L480.3,95 Z" fill="#ffffff" opacity="0.02"/>
<line x1="457.2" y1="95" x2="457.2" y2="118.7" stroke="#fff" stroke-opacity="0.04" stroke-width="1.2"/>
<line x1="479.8" y1="95" x2="479.8" y2="118.7" stroke="#fff" stroke-opacity="0.04" stroke-width="1.2"/>
<g filter="url(#blur05)"><path d="M458.9,117.0 Q468.5,117.8 478.1,117.0 Q479.3,117.0 479.2,118.5 L476.7,134.5 Q475.1,141.8 468.5,141.5 Q461.9,141.8 460.3,134.5 L457.8,118.5 Q457.7,117.0 458.9,117.0 Z" fill="url(#g1_7)" stroke="#1a5cb8" stroke-width="1.7" stroke-opacity="0.85"/>
<path d="M458.7,117.9 Q468.5,118.7 478.3,117.9" fill="none" stroke="#ffffff" stroke-opacity="0.2" stroke-width="1"/></g>
<line x1="470.0" y1="95" x2="470.0" y2="118.7" stroke="#ffffff" stroke-opacity="0.55" stroke-width="1.3"/>
<line x1="467.5" y1="123.7" x2="467.5" y2="132.7" stroke="#ffffff" stroke-opacity="0.25" stroke-width="0.9"/>
<path d="M511.5,95 L511.5,116.7 L535.0999999999999,116.7 L535.0999999999999,95 Z" fill="#ffffff" opacity="0.02"/>
<line x1="512.0" y1="95" x2="512.0" y2="118.7" stroke="#fff" stroke-opacity="0.04" stroke-width="1.2"/>
<line x1="534.5999999999999" y1="95" x2="534.5999999999999" y2="118.7" stroke="#fff" stroke-opacity="0.04" stroke-width="1.2"/>
<g filter="url(#blur05)"><path d="M513.7,117.0 Q523.3,117.8 532.8999999999999,117.0 Q534.0999999999999,117.0 533.9999999999999,118.5 L531.4999999999999,134.5 Q529.8999999999999,141.8 523.3,141.5 Q516.7,141.8 515.1,134.5 L512.6,118.5 Q512.5,117.0 513.7,117.0 Z" fill="url(#g1_8)" stroke="#1a54a8" stroke-width="1.7" stroke-opacity="0.85"/>
<path d="M513.5,117.9 Q523.3,118.7 533.0999999999999,117.9" fill="none" stroke="#ffffff" stroke-opacity="0.2" stroke-width="1"/></g>
<line x1="522.3" y1="95" x2="522.3" y2="118.7" stroke="#ffffff" stroke-opacity="0.55" stroke-width="1.3"/>
<line x1="519.8" y1="123.7" x2="519.8" y2="132.7" stroke="#ffffff" stroke-opacity="0.25" stroke-width="0.9"/>
<path d="M564.7,95 L564.7,116.7 L588.3,116.7 L588.3,95 Z" fill="#ffffff" opacity="0.02"/>
<line x1="565.2" y1="95" x2="565.2" y2="118.7" stroke="#fff" stroke-opacity="0.04" stroke-width="1.2"/>
<line x1="587.8" y1="95" x2="587.8" y2="118.7" stroke="#fff" stroke-opacity="0.04" stroke-width="1.2"/>
<g filter="url(#blur05)"><path d="M566.9000000000001,117.0 Q576.5,117.8 586.0999999999999,117.0 Q587.3,117.0 587.1999999999999,118.5 L584.6999999999999,134.5 Q583.0999999999999,141.8 576.5,141.5 Q569.9000000000001,141.8 568.3000000000001,134.5 L565.8000000000001,118.5 Q565.7,117.0 566.9000000000001,117.0 Z" fill="url(#g1_9)" stroke="#1c4a88" stroke-width="1.7" stroke-opacity="0.85"/>
<path d="M566.7,117.9 Q576.5,118.7 586.3,117.9" fill="none" stroke="#ffffff" stroke-opacity="0.2" stroke-width="1"/></g>
<line x1="578.0" y1="95" x2="578.0" y2="118.7" stroke="#ffffff" stroke-opacity="0.55" stroke-width="1.3"/>
<line x1="575.5" y1="123.7" x2="575.5" y2="132.7" stroke="#ffffff" stroke-opacity="0.25" stroke-width="0.9"/>
<path d="M620.2,95 L620.2,116.7 L643.8,116.7 L643.8,95 Z" fill="#ffffff" opacity="0.02"/>
<line x1="620.7" y1="95" x2="620.7" y2="118.7" stroke="#fff" stroke-opacity="0.04" stroke-width="1.2"/>
<line x1="643.3" y1="95" x2="643.3" y2="118.7" stroke="#fff" stroke-opacity="0.04" stroke-width="1.2"/>
<g filter="url(#blur05)"><path d="M622.4000000000001,117.0 Q632,117.8 641.5999999999999,117.0 Q642.8,117.0 642.6999999999999,118.5 L640.1999999999999,134.5 Q638.5999999999999,141.8 632,141.5 Q625.4000000000001,141.8 623.8000000000001,134.5 L621.3000000000001,118.5 Q621.2,117.0 622.4000000000001,117.0 Z" fill="url(#g1_10)" stroke="#1c3250" stroke-width="1.7" stroke-opacity="0.85"/>
<path d="M622.2,117.9 Q632,118.7 641.8,117.9" fill="none" stroke="#ffffff" stroke-opacity="0.2" stroke-width="1"/></g>
<line x1="631" y1="95" x2="631" y2="118.7" stroke="#ffffff" stroke-opacity="0.55" stroke-width="1.3"/>
<line x1="628.5" y1="123.7" x2="628.5" y2="132.7" stroke="#ffffff" stroke-opacity="0.25" stroke-width="0.9"/>
<rect x="82" y="157" width="580" height="55.5" fill="#151515"/>
<path d="M91.10000000000001,157 L91.10000000000001,176.7 L114.7,176.7 L114.7,157 Z" fill="#ffffff" opacity="0.02"/>
<line x1="91.60000000000001" y1="157" x2="91.60000000000001" y2="178.7" stroke="#fff" stroke-opacity="0.04" stroke-width="1.2"/>
<line x1="114.2" y1="157" x2="114.2" y2="178.7" stroke="#fff" stroke-opacity="0.04" stroke-width="1.2"/>
<g filter="url(#blur05)"><path d="M93.30000000000001,177.0 Q102.9,177.8 112.5,177.0 Q113.7,177.0 113.60000000000001,178.5 L111.10000000000001,194.5 Q109.5,201.8 102.9,201.5 Q96.30000000000001,201.8 94.7,194.5 L92.2,178.5 Q92.10000000000001,177.0 93.30000000000001,177.0 Z" fill="url(#g2_0)" stroke="#1a58b0" stroke-width="1.7" stroke-opacity="0.85"/>
<path d="M93.10000000000001,177.9 Q102.9,178.7 112.7,177.9" fill="none" stroke="#ffffff" stroke-opacity="0.2" stroke-width="1"/></g>
<line x1="101.9" y1="157" x2="101.9" y2="178.7" stroke="#ffffff" stroke-opacity="0.55" stroke-width="1.3"/>
<line x1="99.4" y1="183.7" x2="99.4" y2="192.7" stroke="#ffffff" stroke-opacity="0.25" stroke-width="0.9"/>
<path d="M144.0,157 L144.0,176.7 L167.60000000000002,176.7 L167.60000000000002,157 Z" fill="#ffffff" opacity="0.02"/>
<line x1="144.5" y1="157" x2="144.5" y2="178.7" stroke="#fff" stroke-opacity="0.04" stroke-width="1.2"/>
<line x1="167.10000000000002" y1="157" x2="167.10000000000002" y2="178.7" stroke="#fff" stroke-opacity="0.04" stroke-width="1.2"/>
<g filter="url(#blur05)"><path d="M146.2,177.0 Q155.8,177.8 165.40000000000003,177.0 Q166.60000000000002,177.0 166.50000000000003,178.5 L164.00000000000003,194.5 Q162.40000000000003,201.8 155.8,201.5 Q149.2,201.8 147.6,194.5 L145.1,178.5 Q145.0,177.0 146.2,177.0 Z" fill="url(#g2_1)" stroke="#1c3658" stroke-width="1.7" stroke-opacity="0.85"/>
<path d="M146.0,177.9 Q155.8,178.7 165.60000000000002,177.9" fill="none" stroke="#ffffff" stroke-opacity="0.2" stroke-width="1"/></g>
<line x1="157.3" y1="157" x2="157.3" y2="178.7" stroke="#ffffff" stroke-opacity="0.5" stroke-width="1.8"/>
<line x1="156.8" y1="179.7" x2="156.10000000000002" y2="198.5" stroke="#ffffff" stroke-opacity="0.32" stroke-width="1.6"/>
<path d="M144.7,177.0 L166.90000000000003,177.0 L164.3,194.5 Q162.8,202.3 155.8,202.0 Q148.8,202.3 147.3,194.5 Z" fill="none" stroke="#ffffff" stroke-opacity="0.1" stroke-width="1.2" filter="url(#blur05)"/>
<path d="M145.8,177.6 Q155.8,178.8 165.8,177.6" fill="none" stroke="#ffffff" stroke-opacity="0.24" stroke-width="1.2"/>
<path d="M200.39999999999998,157 L200.39999999999998,176.7 L224.0,176.7 L224.0,157 Z" fill="#ffffff" opacity="0.02"/>
<line x1="200.89999999999998" y1="157" x2="200.89999999999998" y2="178.7" stroke="#fff" stroke-opacity="0.04" stroke-width="1.2"/>
<line x1="223.5" y1="157" x2="223.5" y2="178.7" stroke="#fff" stroke-opacity="0.04" stroke-width="1.2"/>
<g filter="url(#blur05)"><path d="M202.59999999999997,177.0 Q212.2,177.8 221.8,177.0 Q223.0,177.0 222.9,178.5 L220.4,194.5 Q218.8,201.8 212.2,201.5 Q205.59999999999997,201.8 203.99999999999997,194.5 L201.49999999999997,178.5 Q201.39999999999998,177.0 202.59999999999997,177.0 Z" fill="url(#g2_2)" stroke="#1c3658" stroke-width="1.7" stroke-opacity="0.85"/>
<path d="M202.39999999999998,177.9 Q212.2,178.7 222.0,177.9" fill="none" stroke="#ffffff" stroke-opacity="0.2" stroke-width="1"/></g>
<line x1="211.2" y1="157" x2="211.2" y2="178.7" stroke="#ffffff" stroke-opacity="0.5" stroke-width="1.8"/>
<line x1="210.7" y1="179.7" x2="210.0" y2="198.5" stroke="#ffffff" stroke-opacity="0.32" stroke-width="1.6"/>
<path d="M201.09999999999997,177.0 L223.3,177.0 L220.7,194.5 Q219.2,202.3 212.2,202.0 Q205.2,202.3 203.7,194.5 Z" fill="none" stroke="#ffffff" stroke-opacity="0.1" stroke-width="1.2" filter="url(#blur05)"/>
<path d="M202.2,177.6 Q212.2,178.8 222.2,177.6" fill="none" stroke="#ffffff" stroke-opacity="0.24" stroke-width="1.2"/>
<path d="M250.2,157 L250.2,176.7 L273.8,176.7 L273.8,157 Z" fill="#ffffff" opacity="0.02"/>
<line x1="250.7" y1="157" x2="250.7" y2="178.7" stroke="#fff" stroke-opacity="0.04" stroke-width="1.2"/>
<line x1="273.3" y1="157" x2="273.3" y2="178.7" stroke="#fff" stroke-opacity="0.04" stroke-width="1.2"/>
<g filter="url(#blur05)"><path d="M252.39999999999998,177.0 Q262,177.8 271.6,177.0 Q272.8,177.0 272.7,178.5 L270.2,194.5 Q268.6,201.8 262,201.5 Q255.39999999999998,201.8 253.79999999999998,194.5 L251.29999999999998,178.5 Q251.2,177.0 252.39999999999998,177.0 Z" fill="url(#g2_3)" stroke="#1c3658" stroke-width="1.7" stroke-opacity="0.85"/>
<path d="M252.2,177.9 Q262,178.7 271.8,177.9" fill="none" stroke="#ffffff" stroke-opacity="0.2" stroke-width="1"/></g>
<line x1="263.5" y1="157" x2="263.5" y2="178.7" stroke="#ffffff" stroke-opacity="0.5" stroke-width="1.8"/>
<line x1="263.0" y1="179.7" x2="262.3" y2="198.5" stroke="#ffffff" stroke-opacity="0.32" stroke-width="1.6"/>
<path d="M250.89999999999998,177.0 L273.1,177.0 L270.5,194.5 Q269.0,202.3 262,202.0 Q255.0,202.3 253.5,194.5 Z" fill="none" stroke="#ffffff" stroke-opacity="0.1" stroke-width="1.2" filter="url(#blur05)"/>
<path d="M252.0,177.6 Q262,178.8 272.0,177.6" fill="none" stroke="#ffffff" stroke-opacity="0.24" stroke-width="1.2"/>
<path d="M303.09999999999997,157 L303.09999999999997,176.7 L326.7,176.7 L326.7,157 Z" fill="#ffffff" opacity="0.02"/>
<line x1="303.59999999999997" y1="157" x2="303.59999999999997" y2="178.7" stroke="#fff" stroke-opacity="0.04" stroke-width="1.2"/>
<line x1="326.2" y1="157" x2="326.2" y2="178.7" stroke="#fff" stroke-opacity="0.04" stroke-width="1.2"/>
<g filter="url(#blur05)"><path d="M305.29999999999995,177.0 Q314.9,177.8 324.5,177.0 Q325.7,177.0 325.59999999999997,178.5 L323.09999999999997,194.5 Q321.5,201.8 314.9,201.5 Q308.29999999999995,201.8 306.7,194.5 L304.2,178.5 Q304.09999999999997,177.0 305.29999999999995,177.0 Z" fill="url(#g2_4)" stroke="#1c3658" stroke-width="1.7" stroke-opacity="0.85"/>
<path d="M305.09999999999997,177.9 Q314.9,178.7 324.7,177.9" fill="none" stroke="#ffffff" stroke-opacity="0.2" stroke-width="1"/></g>
<line x1="313.9" y1="157" x2="313.9" y2="178.7" stroke="#ffffff" stroke-opacity="0.5" stroke-width="1.8"/>
<line x1="313.4" y1="179.7" x2="312.7" y2="198.5" stroke="#ffffff" stroke-opacity="0.32" stroke-width="1.6"/>
<path d="M303.79999999999995,177.0 L326.0,177.0 L323.4,194.5 Q321.9,202.3 314.9,202.0 Q307.9,202.3 306.4,194.5 Z" fill="none" stroke="#ffffff" stroke-opacity="0.1" stroke-width="1.2" filter="url(#blur05)"/>
<path d="M304.9,177.6 Q314.9,178.8 324.9,177.6" fill="none" stroke="#ffffff" stroke-opacity="0.24" stroke-width="1.2"/>
<path d="M355.7,157 L355.7,176.7 L379.3,176.7 L379.3,157 Z" fill="#ffffff" opacity="0.02"/>
<line x1="356.2" y1="157" x2="356.2" y2="178.7" stroke="#fff" stroke-opacity="0.04" stroke-width="1.2"/>
<line x1="378.8" y1="157" x2="378.8" y2="178.7" stroke="#fff" stroke-opacity="0.04" stroke-width="1.2"/>
<g filter="url(#blur05)"><path d="M357.9,177.0 Q367.5,177.8 377.1,177.0 Q378.3,177.0 378.2,178.5 L375.7,194.5 Q374.1,201.8 367.5,201.5 Q360.9,201.8 359.3,194.5 L356.8,178.5 Q356.7,177.0 357.9,177.0 Z" fill="url(#g2_5)" stroke="#1c3658" stroke-width="1.7" stroke-opacity="0.85"/>
<path d="M357.7,177.9 Q367.5,178.7 377.3,177.9" fill="none" stroke="#ffffff" stroke-opacity="0.2" stroke-width="1"/></g>
<line x1="369.0" y1="157" x2="369.0" y2="178.7" stroke="#ffffff" stroke-opacity="0.5" stroke-width="1.8"/>
<line x1="368.5" y1="179.7" x2="367.8" y2="198.5" stroke="#ffffff" stroke-opacity="0.32" stroke-width="1.6"/>
<path d="M356.4,177.0 L378.6,177.0 L376.0,194.5 Q374.5,202.3 367.5,202.0 Q360.5,202.3 359.0,194.5 Z" fill="none" stroke="#ffffff" stroke-opacity="0.1" stroke-width="1.2" filter="url(#blur05)"/>
<path d="M357.5,177.6 Q367.5,178.8 377.5,177.6" fill="none" stroke="#ffffff" stroke-opacity="0.24" stroke-width="1.2"/>
<path d="M397.2,157 L397.2,176.7 L420.8,176.7 L420.8,157 Z" fill="#ffffff" opacity="0.02"/>
<line x1="397.7" y1="157" x2="397.7" y2="178.7" stroke="#fff" stroke-opacity="0.04" stroke-width="1.2"/>
<line x1="420.3" y1="157" x2="420.3" y2="178.7" stroke="#fff" stroke-opacity="0.04" stroke-width="1.2"/>
<g filter="url(#blur05)"><path d="M399.4,177.0 Q409,177.8 418.6,177.0 Q419.8,177.0 419.7,178.5 L417.2,194.5 Q415.6,201.8 409,201.5 Q402.4,201.8 400.8,194.5 L398.3,178.5 Q398.2,177.0 399.4,177.0 Z" fill="url(#g2_6)" stroke="#1c2a3c" stroke-width="1.7" stroke-opacity="0.85"/>
<path d="M399.2,177.9 Q409,178.7 418.8,177.9" fill="none" stroke="#ffffff" stroke-opacity="0.2" stroke-width="1"/></g>
<line x1="408" y1="157" x2="408" y2="178.7" stroke="#ffffff" stroke-opacity="0.5" stroke-width="1.8"/>
<line x1="407.5" y1="179.7" x2="406.8" y2="198.5" stroke="#ffffff" stroke-opacity="0.32" stroke-width="1.6"/>
<path d="M397.9,177.0 L420.1,177.0 L417.5,194.5 Q416.0,202.3 409,202.0 Q402.0,202.3 400.5,194.5 Z" fill="none" stroke="#ffffff" stroke-opacity="0.1" stroke-width="1.2" filter="url(#blur05)"/>
<path d="M399.0,177.6 Q409,178.8 419.0,177.6" fill="none" stroke="#ffffff" stroke-opacity="0.24" stroke-width="1.2"/>
<path d="M454.2,157 L454.2,176.7 L477.8,176.7 L477.8,157 Z" fill="#ffffff" opacity="0.02"/>
<line x1="454.7" y1="157" x2="454.7" y2="178.7" stroke="#fff" stroke-opacity="0.04" stroke-width="1.2"/>
<line x1="477.3" y1="157" x2="477.3" y2="178.7" stroke="#fff" stroke-opacity="0.04" stroke-width="1.2"/>
<g filter="url(#blur05)"><path d="M456.4,177.0 Q466,177.8 475.6,177.0 Q476.8,177.0 476.7,178.5 L474.2,194.5 Q472.6,201.8 466,201.5 Q459.4,201.8 457.8,194.5 L455.3,178.5 Q455.2,177.0 456.4,177.0 Z" fill="url(#g2_7)" stroke="#1e2226" stroke-width="1.7" stroke-opacity="0.85"/>
<path d="M456.2,177.9 Q466,178.7 475.8,177.9" fill="none" stroke="#ffffff" stroke-opacity="0.2" stroke-width="1"/></g>
<line x1="467.5" y1="157" x2="467.5" y2="178.7" stroke="#ffffff" stroke-opacity="0.5" stroke-width="1.8"/>
<line x1="467.0" y1="179.7" x2="466.3" y2="198.5" stroke="#ffffff" stroke-opacity="0.32" stroke-width="1.6"/>
<path d="M454.9,177.0 L477.1,177.0 L474.5,194.5 Q473.0,202.3 466,202.0 Q459.0,202.3 457.5,194.5 Z" fill="none" stroke="#ffffff" stroke-opacity="0.1" stroke-width="1.2" filter="url(#blur05)"/>
<path d="M456.0,177.6 Q466,178.8 476.0,177.6" fill="none" stroke="#ffffff" stroke-opacity="0.24" stroke-width="1.2"/>
<path d="M509.2,157 L509.2,176.7 L532.8,176.7 L532.8,157 Z" fill="#ffffff" opacity="0.02"/>
<line x1="509.7" y1="157" x2="509.7" y2="178.7" stroke="#fff" stroke-opacity="0.04" stroke-width="1.2"/>
<line x1="532.3" y1="157" x2="532.3" y2="178.7" stroke="#fff" stroke-opacity="0.04" stroke-width="1.2"/>
<g filter="url(#blur05)"><path d="M511.4,177.0 Q521,177.8 530.5999999999999,177.0 Q531.8,177.0 531.6999999999999,178.5 L529.1999999999999,194.5 Q527.5999999999999,201.8 521,201.5 Q514.4,201.8 512.8,194.5 L510.3,178.5 Q510.2,177.0 511.4,177.0 Z" fill="url(#g2_8)" stroke="#1e2226" stroke-width="1.7" stroke-opacity="0.85"/>
<path d="M511.2,177.9 Q521,178.7 530.8,177.9" fill="none" stroke="#ffffff" stroke-opacity="0.2" stroke-width="1"/></g>
<line x1="520" y1="157" x2="520" y2="178.7" stroke="#ffffff" stroke-opacity="0.5" stroke-width="1.8"/>
<line x1="519.5" y1="179.7" x2="518.8" y2="198.5" stroke="#ffffff" stroke-opacity="0.32" stroke-width="1.6"/>
<path d="M509.9,177.0 L532.0999999999999,177.0 L529.5,194.5 Q528.0,202.3 521,202.0 Q514.0,202.3 512.5,194.5 Z" fill="none" stroke="#ffffff" stroke-opacity="0.1" stroke-width="1.2" filter="url(#blur05)"/>
<path d="M511.0,177.6 Q521,178.8 531.0,177.6" fill="none" stroke="#ffffff" stroke-opacity="0.24" stroke-width="1.2"/>
<path d="M566.2,157 L566.2,176.7 L589.8,176.7 L589.8,157 Z" fill="#ffffff" opacity="0.02"/>
<line x1="566.7" y1="157" x2="566.7" y2="178.7" stroke="#fff" stroke-opacity="0.04" stroke-width="1.2"/>
<line x1="589.3" y1="157" x2="589.3" y2="178.7" stroke="#fff" stroke-opacity="0.04" stroke-width="1.2"/>
<g filter="url(#blur05)"><path d="M568.4000000000001,177.0 Q578,177.8 587.5999999999999,177.0 Q588.8,177.0 588.6999999999999,178.5 L586.1999999999999,194.5 Q584.5999999999999,201.8 578,201.5 Q571.4000000000001,201.8 569.8000000000001,194.5 L567.3000000000001,178.5 Q567.2,177.0 568.4000000000001,177.0 Z" fill="url(#g2_9)" stroke="#1e2226" stroke-width="1.7" stroke-opacity="0.85"/>
<path d="M568.2,177.9 Q578,178.7 587.8,177.9" fill="none" stroke="#ffffff" stroke-opacity="0.2" stroke-width="1"/></g>
<line x1="579.5" y1="157" x2="579.5" y2="178.7" stroke="#ffffff" stroke-opacity="0.5" stroke-width="1.8"/>
<line x1="579.0" y1="179.7" x2="578.3" y2="198.5" stroke="#ffffff" stroke-opacity="0.32" stroke-width="1.6"/>
<path d="M566.9000000000001,177.0 L589.0999999999999,177.0 L586.5,194.5 Q585.0,202.3 578,202.0 Q571.0,202.3 569.5,194.5 Z" fill="none" stroke="#ffffff" stroke-opacity="0.1" stroke-width="1.2" filter="url(#blur05)"/>
<path d="M568.0,177.6 Q578,178.8 588.0,177.6" fill="none" stroke="#ffffff" stroke-opacity="0.24" stroke-width="1.2"/>
<path d="M621.7,157 L621.7,176.7 L645.3,176.7 L645.3,157 Z" fill="#ffffff" opacity="0.02"/>
<line x1="622.2" y1="157" x2="622.2" y2="178.7" stroke="#fff" stroke-opacity="0.04" stroke-width="1.2"/>
<line x1="644.8" y1="157" x2="644.8" y2="178.7" stroke="#fff" stroke-opacity="0.04" stroke-width="1.2"/>
<g filter="url(#blur05)"><path d="M623.9000000000001,177.0 Q633.5,177.8 643.0999999999999,177.0 Q644.3,177.0 644.1999999999999,178.5 L641.6999999999999,194.5 Q640.0999999999999,201.8 633.5,201.5 Q626.9000000000001,201.8 625.3000000000001,194.5 L622.8000000000001,178.5 Q622.7,177.0 623.9000000000001,177.0 Z" fill="url(#g2_10)" stroke="#1e2226" stroke-width="1.7" stroke-opacity="0.85"/>
<path d="M623.7,177.9 Q633.5,178.7 643.3,177.9" fill="none" stroke="#ffffff" stroke-opacity="0.2" stroke-width="1"/></g>
<line x1="632.5" y1="157" x2="632.5" y2="178.7" stroke="#ffffff" stroke-opacity="0.5" stroke-width="1.8"/>
<line x1="632.0" y1="179.7" x2="631.3" y2="198.5" stroke="#ffffff" stroke-opacity="0.32" stroke-width="1.6"/>
<path d="M622.4000000000001,177.0 L644.5999999999999,177.0 L642.0,194.5 Q640.5,202.3 633.5,202.0 Q626.5,202.3 625.0,194.5 Z" fill="none" stroke="#ffffff" stroke-opacity="0.1" stroke-width="1.2" filter="url(#blur05)"/>
<path d="M623.5,177.6 Q633.5,178.8 643.5,177.6" fill="none" stroke="#ffffff" stroke-opacity="0.24" stroke-width="1.2"/>
<rect x="82" y="219" width="580" height="55.5" fill="#151515"/>
<path d="M91.8,219 L91.8,238.1 L115.39999999999999,238.1 L115.39999999999999,219 Z" fill="#ffffff" opacity="0.02"/>
<line x1="92.3" y1="219" x2="92.3" y2="240.1" stroke="#fff" stroke-opacity="0.04" stroke-width="1.2"/>
<line x1="114.89999999999999" y1="219" x2="114.89999999999999" y2="240.1" stroke="#fff" stroke-opacity="0.04" stroke-width="1.2"/>
<g filter="url(#blur05)"><path d="M94.0,238.4 Q103.6,239.20000000000002 113.19999999999999,238.4 Q114.39999999999999,238.4 114.3,239.9 L111.8,256 Q110.19999999999999,263.3 103.6,263 Q97.0,263.3 95.39999999999999,256 L92.89999999999999,239.9 Q92.8,238.4 94.0,238.4 Z" fill="url(#g3_0)" stroke="#1a70c8" stroke-width="1.7" stroke-opacity="0.85"/>
<path d="M93.8,239.3 Q103.6,240.1 113.39999999999999,239.3" fill="none" stroke="#ffffff" stroke-opacity="0.2" stroke-width="1"/></g>
<line x1="102.6" y1="219" x2="102.6" y2="240.1" stroke="#ffffff" stroke-opacity="0.55" stroke-width="1.3"/>
<line x1="100.1" y1="245.1" x2="100.1" y2="254.1" stroke="#ffffff" stroke-opacity="0.25" stroke-width="0.9"/>
<path d="M144.7,219 L144.7,238.1 L168.3,238.1 L168.3,219 Z" fill="#ffffff" opacity="0.02"/>
<line x1="145.2" y1="219" x2="145.2" y2="240.1" stroke="#fff" stroke-opacity="0.04" stroke-width="1.2"/>
<line x1="167.8" y1="219" x2="167.8" y2="240.1" stroke="#fff" stroke-opacity="0.04" stroke-width="1.2"/>
<g filter="url(#blur05)"><path d="M146.89999999999998,238.4 Q156.5,239.20000000000002 166.10000000000002,238.4 Q167.3,238.4 167.20000000000002,239.9 L164.70000000000002,256 Q163.10000000000002,263.3 156.5,263 Q149.89999999999998,263.3 148.29999999999998,256 L145.79999999999998,239.9 Q145.7,238.4 146.89999999999998,238.4 Z" fill="url(#g3_1)" stroke="#1e1f21" stroke-width="1.7" stroke-opacity="0.85"/>
<path d="M146.7,239.3 Q156.5,240.1 166.3,239.3" fill="none" stroke="#ffffff" stroke-opacity="0.2" stroke-width="1"/></g>
<line x1="158.0" y1="219" x2="158.0" y2="240.1" stroke="#ffffff" stroke-opacity="0.5" stroke-width="1.8"/>
<line x1="157.5" y1="241.1" x2="156.8" y2="260" stroke="#ffffff" stroke-opacity="0.32" stroke-width="1.6"/>
<path d="M145.39999999999998,238.4 L167.60000000000002,238.4 L165.0,256 Q163.5,263.8 156.5,263.5 Q149.5,263.8 148.0,256 Z" fill="none" stroke="#ffffff" stroke-opacity="0.1" stroke-width="1.2" filter="url(#blur05)"/>
<path d="M146.5,239.0 Q156.5,240.20000000000002 166.5,239.0" fill="none" stroke="#ffffff" stroke-opacity="0.24" stroke-width="1.2"/>
<path d="M198.0,219 L198.0,238.1 L221.60000000000002,238.1 L221.60000000000002,219 Z" fill="#ffffff" opacity="0.02"/>
<line x1="198.5" y1="219" x2="198.5" y2="240.1" stroke="#fff" stroke-opacity="0.04" stroke-width="1.2"/>
<line x1="221.10000000000002" y1="219" x2="221.10000000000002" y2="240.1" stroke="#fff" stroke-opacity="0.04" stroke-width="1.2"/>
<g filter="url(#blur05)"><path d="M200.2,238.4 Q209.8,239.20000000000002 219.40000000000003,238.4 Q220.60000000000002,238.4 220.50000000000003,239.9 L218.00000000000003,256 Q216.40000000000003,263.3 209.8,263 Q203.2,263.3 201.6,256 L199.1,239.9 Q199.0,238.4 200.2,238.4 Z" fill="url(#g3_2)" stroke="#1e1f21" stroke-width="1.7" stroke-opacity="0.85"/>
<path d="M200.0,239.3 Q209.8,240.1 219.60000000000002,239.3" fill="none" stroke="#ffffff" stroke-opacity="0.2" stroke-width="1"/></g>
<line x1="208.8" y1="219" x2="208.8" y2="240.1" stroke="#ffffff" stroke-opacity="0.5" stroke-width="1.8"/>
<line x1="208.3" y1="241.1" x2="207.60000000000002" y2="260" stroke="#ffffff" stroke-opacity="0.32" stroke-width="1.6"/>
<path d="M198.7,238.4 L220.90000000000003,238.4 L218.3,256 Q216.8,263.8 209.8,263.5 Q202.8,263.8 201.3,256 Z" fill="none" stroke="#ffffff" stroke-opacity="0.1" stroke-width="1.2" filter="url(#blur05)"/>
<path d="M199.8,239.0 Q209.8,240.20000000000002 219.8,239.0" fill="none" stroke="#ffffff" stroke-opacity="0.24" stroke-width="1.2"/>
<path d="M247.59999999999997,219 L247.59999999999997,238.1 L271.2,238.1 L271.2,219 Z" fill="#ffffff" opacity="0.02"/>
<line x1="248.09999999999997" y1="219" x2="248.09999999999997" y2="240.1" stroke="#fff" stroke-opacity="0.04" stroke-width="1.2"/>
<line x1="270.7" y1="219" x2="270.7" y2="240.1" stroke="#fff" stroke-opacity="0.04" stroke-width="1.2"/>
<g filter="url(#blur05)"><path d="M249.79999999999995,238.4 Q259.4,239.20000000000002 269.0,238.4 Q270.2,238.4 270.09999999999997,239.9 L267.59999999999997,256 Q266.0,263.3 259.4,263 Q252.79999999999995,263.3 251.19999999999996,256 L248.69999999999996,239.9 Q248.59999999999997,238.4 249.79999999999995,238.4 Z" fill="url(#g3_3)" stroke="#1e1f21" stroke-width="1.7" stroke-opacity="0.85"/>
<path d="M249.59999999999997,239.3 Q259.4,240.1 269.2,239.3" fill="none" stroke="#ffffff" stroke-opacity="0.2" stroke-width="1"/></g>
<line x1="260.9" y1="219" x2="260.9" y2="240.1" stroke="#ffffff" stroke-opacity="0.5" stroke-width="1.8"/>
<line x1="260.4" y1="241.1" x2="259.7" y2="260" stroke="#ffffff" stroke-opacity="0.32" stroke-width="1.6"/>
<path d="M248.29999999999995,238.4 L270.5,238.4 L267.9,256 Q266.4,263.8 259.4,263.5 Q252.39999999999998,263.8 250.89999999999998,256 Z" fill="none" stroke="#ffffff" stroke-opacity="0.1" stroke-width="1.2" filter="url(#blur05)"/>
<path d="M249.39999999999998,239.0 Q259.4,240.20000000000002 269.4,239.0" fill="none" stroke="#ffffff" stroke-opacity="0.24" stroke-width="1.2"/>
<path d="M297.2,219 L297.2,238.1 L320.8,238.1 L320.8,219 Z" fill="#ffffff" opacity="0.02"/>
<line x1="297.7" y1="219" x2="297.7" y2="240.1" stroke="#fff" stroke-opacity="0.04" stroke-width="1.2"/>
<line x1="320.3" y1="219" x2="320.3" y2="240.1" stroke="#fff" stroke-opacity="0.04" stroke-width="1.2"/>
<g filter="url(#blur05)"><path d="M299.4,238.4 Q309,239.20000000000002 318.6,238.4 Q319.8,238.4 319.7,239.9 L317.2,256 Q315.6,263.3 309,263 Q302.4,263.3 300.8,256 L298.3,239.9 Q298.2,238.4 299.4,238.4 Z" fill="url(#g3_4)" stroke="#1e1f21" stroke-width="1.7" stroke-opacity="0.85"/>
<path d="M299.2,239.3 Q309,240.1 318.8,239.3" fill="none" stroke="#ffffff" stroke-opacity="0.2" stroke-width="1"/></g>
<line x1="308" y1="219" x2="308" y2="240.1" stroke="#ffffff" stroke-opacity="0.5" stroke-width="1.8"/>
<line x1="307.5" y1="241.1" x2="306.8" y2="260" stroke="#ffffff" stroke-opacity="0.32" stroke-width="1.6"/>
<path d="M297.9,238.4 L320.1,238.4 L317.5,256 Q316.0,263.8 309,263.5 Q302.0,263.8 300.5,256 Z" fill="none" stroke="#ffffff" stroke-opacity="0.1" stroke-width="1.2" filter="url(#blur05)"/>
<path d="M299.0,239.0 Q309,240.20000000000002 319.0,239.0" fill="none" stroke="#ffffff" stroke-opacity="0.24" stroke-width="1.2"/>
<path d="M347.59999999999997,219 L347.59999999999997,238.1 L371.2,238.1 L371.2,219 Z" fill="#ffffff" opacity="0.02"/>
<line x1="348.09999999999997" y1="219" x2="348.09999999999997" y2="240.1" stroke="#fff" stroke-opacity="0.04" stroke-width="1.2"/>
<line x1="370.7" y1="219" x2="370.7" y2="240.1" stroke="#fff" stroke-opacity="0.04" stroke-width="1.2"/>
<g filter="url(#blur05)"><path d="M349.79999999999995,238.4 Q359.4,239.20000000000002 369.0,238.4 Q370.2,238.4 370.09999999999997,239.9 L367.59999999999997,256 Q366.0,263.3 359.4,263 Q352.79999999999995,263.3 351.2,256 L348.7,239.9 Q348.59999999999997,238.4 349.79999999999995,238.4 Z" fill="url(#g3_5)" stroke="#1e1f21" stroke-width="1.7" stroke-opacity="0.85"/>
<path d="M349.59999999999997,239.3 Q359.4,240.1 369.2,239.3" fill="none" stroke="#ffffff" stroke-opacity="0.2" stroke-width="1"/></g>
<line x1="360.9" y1="219" x2="360.9" y2="240.1" stroke="#ffffff" stroke-opacity="0.5" stroke-width="1.8"/>
<line x1="360.4" y1="241.1" x2="359.7" y2="260" stroke="#ffffff" stroke-opacity="0.32" stroke-width="1.6"/>
<path d="M348.29999999999995,238.4 L370.5,238.4 L367.9,256 Q366.4,263.8 359.4,263.5 Q352.4,263.8 350.9,256 Z" fill="none" stroke="#ffffff" stroke-opacity="0.1" stroke-width="1.2" filter="url(#blur05)"/>
<path d="M349.4,239.0 Q359.4,240.20000000000002 369.4,239.0" fill="none" stroke="#ffffff" stroke-opacity="0.24" stroke-width="1.2"/>
<path d="M401.59999999999997,219 L401.59999999999997,238.1 L425.2,238.1 L425.2,219 Z" fill="#ffffff" opacity="0.02"/>
<line x1="402.09999999999997" y1="219" x2="402.09999999999997" y2="240.1" stroke="#fff" stroke-opacity="0.04" stroke-width="1.2"/>
<line x1="424.7" y1="219" x2="424.7" y2="240.1" stroke="#fff" stroke-opacity="0.04" stroke-width="1.2"/>
<g filter="url(#blur05)"><path d="M403.79999999999995,238.4 Q413.4,239.20000000000002 423.0,238.4 Q424.2,238.4 424.09999999999997,239.9 L421.59999999999997,256 Q420.0,263.3 413.4,263 Q406.79999999999995,263.3 405.2,256 L402.7,239.9 Q402.59999999999997,238.4 403.79999999999995,238.4 Z" fill="url(#g3_6)" stroke="#1e1f21" stroke-width="1.7" stroke-opacity="0.85"/>
<path d="M403.59999999999997,239.3 Q413.4,240.1 423.2,239.3" fill="none" stroke="#ffffff" stroke-opacity="0.2" stroke-width="1"/></g>
<line x1="412.4" y1="219" x2="412.4" y2="240.1" stroke="#ffffff" stroke-opacity="0.5" stroke-width="1.8"/>
<line x1="411.9" y1="241.1" x2="411.2" y2="260" stroke="#ffffff" stroke-opacity="0.32" stroke-width="1.6"/>
<path d="M402.29999999999995,238.4 L424.5,238.4 L421.9,256 Q420.4,263.8 413.4,263.5 Q406.4,263.8 404.9,256 Z" fill="none" stroke="#ffffff" stroke-opacity="0.1" stroke-width="1.2" filter="url(#blur05)"/>
<path d="M403.4,239.0 Q413.4,240.20000000000002 423.4,239.0" fill="none" stroke="#ffffff" stroke-opacity="0.24" stroke-width="1.2"/>
<path d="M457.09999999999997,219 L457.09999999999997,238.1 L480.7,238.1 L480.7,219 Z" fill="#ffffff" opacity="0.02"/>
<line x1="457.59999999999997" y1="219" x2="457.59999999999997" y2="240.1" stroke="#fff" stroke-opacity="0.04" stroke-width="1.2"/>
<line x1="480.2" y1="219" x2="480.2" y2="240.1" stroke="#fff" stroke-opacity="0.04" stroke-width="1.2"/>
<g filter="url(#blur05)"><path d="M459.29999999999995,238.4 Q468.9,239.20000000000002 478.5,238.4 Q479.7,238.4 479.59999999999997,239.9 L477.09999999999997,256 Q475.5,263.3 468.9,263 Q462.29999999999995,263.3 460.7,256 L458.2,239.9 Q458.09999999999997,238.4 459.29999999999995,238.4 Z" fill="url(#g3_7)" stroke="#1e1f21" stroke-width="1.7" stroke-opacity="0.85"/>
<path d="M459.09999999999997,239.3 Q468.9,240.1 478.7,239.3" fill="none" stroke="#ffffff" stroke-opacity="0.2" stroke-width="1"/></g>
<line x1="470.4" y1="219" x2="470.4" y2="240.1" stroke="#ffffff" stroke-opacity="0.5" stroke-width="1.8"/>
<line x1="469.9" y1="241.1" x2="469.2" y2="260" stroke="#ffffff" stroke-opacity="0.32" stroke-width="1.6"/>
<path d="M457.79999999999995,238.4 L480.0,238.4 L477.4,256 Q475.9,263.8 468.9,263.5 Q461.9,263.8 460.4,256 Z" fill="none" stroke="#ffffff" stroke-opacity="0.1" stroke-width="1.2" filter="url(#blur05)"/>
<path d="M458.9,239.0 Q468.9,240.20000000000002 478.9,239.0" fill="none" stroke="#ffffff" stroke-opacity="0.24" stroke-width="1.2"/>
<path d="M514.7,219 L514.7,238.1 L538.3,238.1 L538.3,219 Z" fill="#ffffff" opacity="0.02"/>
<line x1="515.2" y1="219" x2="515.2" y2="240.1" stroke="#fff" stroke-opacity="0.04" stroke-width="1.2"/>
<line x1="537.8" y1="219" x2="537.8" y2="240.1" stroke="#fff" stroke-opacity="0.04" stroke-width="1.2"/>
<g filter="url(#blur05)"><path d="M516.9000000000001,238.4 Q526.5,239.20000000000002 536.0999999999999,238.4 Q537.3,238.4 537.1999999999999,239.9 L534.6999999999999,256 Q533.0999999999999,263.3 526.5,263 Q519.9000000000001,263.3 518.3000000000001,256 L515.8000000000001,239.9 Q515.7,238.4 516.9000000000001,238.4 Z" fill="url(#g3_8)" stroke="#1e1f21" stroke-width="1.7" stroke-opacity="0.85"/>
<path d="M516.7,239.3 Q526.5,240.1 536.3,239.3" fill="none" stroke="#ffffff" stroke-opacity="0.2" stroke-width="1"/></g>
<line x1="525.5" y1="219" x2="525.5" y2="240.1" stroke="#ffffff" stroke-opacity="0.5" stroke-width="1.8"/>
<line x1="525.0" y1="241.1" x2="524.3" y2="260" stroke="#ffffff" stroke-opacity="0.32" stroke-width="1.6"/>
<path d="M515.4000000000001,238.4 L537.5999999999999,238.4 L535.0,256 Q533.5,263.8 526.5,263.5 Q519.5,263.8 518.0,256 Z" fill="none" stroke="#ffffff" stroke-opacity="0.1" stroke-width="1.2" filter="url(#blur05)"/>
<path d="M516.5,239.0 Q526.5,240.20000000000002 536.5,239.0" fill="none" stroke="#ffffff" stroke-opacity="0.24" stroke-width="1.2"/>
<path d="M568.9000000000001,219 L568.9000000000001,238.1 L592.5,238.1 L592.5,219 Z" fill="#ffffff" opacity="0.02"/>
<line x1="569.4000000000001" y1="219" x2="569.4000000000001" y2="240.1" stroke="#fff" stroke-opacity="0.04" stroke-width="1.2"/>
<line x1="592.0" y1="219" x2="592.0" y2="240.1" stroke="#fff" stroke-opacity="0.04" stroke-width="1.2"/>
<g filter="url(#blur05)"><path d="M571.1000000000001,238.4 Q580.7,239.20000000000002 590.3,238.4 Q591.5,238.4 591.4,239.9 L588.9,256 Q587.3,263.3 580.7,263 Q574.1000000000001,263.3 572.5000000000001,256 L570.0000000000001,239.9 Q569.9000000000001,238.4 571.1000000000001,238.4 Z" fill="url(#g3_9)" stroke="#1e1f21" stroke-width="1.7" stroke-opacity="0.85"/>
<path d="M570.9000000000001,239.3 Q580.7,240.1 590.5,239.3" fill="none" stroke="#ffffff" stroke-opacity="0.2" stroke-width="1"/></g>
<line x1="582.2" y1="219" x2="582.2" y2="240.1" stroke="#ffffff" stroke-opacity="0.5" stroke-width="1.8"/>
<line x1="581.7" y1="241.1" x2="581.0" y2="260" stroke="#ffffff" stroke-opacity="0.32" stroke-width="1.6"/>
<path d="M569.6000000000001,238.4 L591.8,238.4 L589.2,256 Q587.7,263.8 580.7,263.5 Q573.7,263.8 572.2,256 Z" fill="none" stroke="#ffffff" stroke-opacity="0.1" stroke-width="1.2" filter="url(#blur05)"/>
<path d="M570.7,239.0 Q580.7,240.20000000000002 590.7,239.0" fill="none" stroke="#ffffff" stroke-opacity="0.24" stroke-width="1.2"/>
<path d="M626.1,219 L626.1,238.1 L649.6999999999999,238.1 L649.6999999999999,219 Z" fill="#ffffff" opacity="0.02"/>
<line x1="626.6" y1="219" x2="626.6" y2="240.1" stroke="#fff" stroke-opacity="0.04" stroke-width="1.2"/>
<line x1="649.1999999999999" y1="219" x2="649.1999999999999" y2="240.1" stroke="#fff" stroke-opacity="0.04" stroke-width="1.2"/>
<g filter="url(#blur05)"><path d="M628.3000000000001,238.4 Q637.9,239.20000000000002 647.4999999999999,238.4 Q648.6999999999999,238.4 648.5999999999999,239.9 L646.0999999999999,256 Q644.4999999999999,263.3 637.9,263 Q631.3000000000001,263.3 629.7,256 L627.2,239.9 Q627.1,238.4 628.3000000000001,238.4 Z" fill="url(#g3_10)" stroke="#1e1f21" stroke-width="1.7" stroke-opacity="0.85"/>
<path d="M628.1,239.3 Q637.9,240.1 647.6999999999999,239.3" fill="none" stroke="#ffffff" stroke-opacity="0.2" stroke-width="1"/></g>
<line x1="636.9" y1="219" x2="636.9" y2="240.1" stroke="#ffffff" stroke-opacity="0.5" stroke-width="1.8"/>
<line x1="636.4" y1="241.1" x2="635.6999999999999" y2="260" stroke="#ffffff" stroke-opacity="0.32" stroke-width="1.6"/>
<path d="M626.8000000000001,238.4 L648.9999999999999,238.4 L646.4,256 Q644.9,263.8 637.9,263.5 Q630.9,263.8 629.4,256 Z" fill="none" stroke="#ffffff" stroke-opacity="0.1" stroke-width="1.2" filter="url(#blur05)"/>
<path d="M627.9,239.0 Q637.9,240.20000000000002 647.9,239.0" fill="none" stroke="#ffffff" stroke-opacity="0.24" stroke-width="1.2"/>
<rect x="667" y="220.2" width="5" height="53.5" fill="url(#cbar)"/>
<rect x="667" y="220.2" width="5" height="1.2" fill="#555"/>
<text x="5.7" y="305.2" font-size="19.5" text-anchor="start" fill="#111" stroke="#111" stroke-width="0.1" >b</text>
<text x="126" y="324.5" font-size="12" text-anchor="middle" fill="#111" stroke="#111" stroke-width="0.1" >Serum</text>
<text x="0" y="0" font-size="12.5" text-anchor="middle" fill="#111" stroke="#111" stroke-width="0.1" transform="translate(10.4 398.3) rotate(-90)">Normalized intensity</text>
<line x1="37.6" y1="329.3" x2="37.6" y2="470.4" stroke="#000" stroke-width="1.6"/>
<line x1="36.8" y1="469.4" x2="233.3" y2="469.4" stroke="#000" stroke-width="1.6"/>
<line x1="32.3" y1="469.40" x2="37.6" y2="469.40" stroke="#000" stroke-width="1.4"/>
<text x="31.2" y="473.0" font-size="10" text-anchor="end" fill="#1a1a1a" stroke="#1a1a1a" stroke-width="0.1" >0.0</text>
<line x1="32.3" y1="441.54" x2="37.6" y2="441.54" stroke="#000" stroke-width="1.4"/>
<text x="31.2" y="445.14" font-size="10" text-anchor="end" fill="#1a1a1a" stroke="#1a1a1a" stroke-width="0.1" >0.2</text>
<line x1="32.3" y1="413.68" x2="37.6" y2="413.68" stroke="#000" stroke-width="1.4"/>
<text x="31.2" y="417.28" font-size="10" text-anchor="end" fill="#1a1a1a" stroke="#1a1a1a" stroke-width="0.1" >0.4</text>
<line x1="32.3" y1="385.82" x2="37.6" y2="385.82" stroke="#000" stroke-width="1.4"/>
<text x="31.2" y="389.41999999999996" font-size="10" text-anchor="end" fill="#1a1a1a" stroke="#1a1a1a" stroke-width="0.1" >0.6</text>
<line x1="32.3" y1="357.96" x2="37.6" y2="357.96" stroke="#000" stroke-width="1.4"/>
<text x="31.2" y="361.56" font-size="10" text-anchor="end" fill="#1a1a1a" stroke="#1a1a1a" stroke-width="0.1" >0.8</text>
<line x1="32.3" y1="330.10" x2="37.6" y2="330.10" stroke="#000" stroke-width="1.4"/>
<text x="31.2" y="333.7" font-size="10" text-anchor="end" fill="#1a1a1a" stroke="#1a1a1a" stroke-width="0.1" >1.0</text>
<line x1="46.40" y1="469.4" x2="46.40" y2="474.79999999999995" stroke="#000" stroke-width="1.4"/>
<line x1="64.05" y1="469.4" x2="64.05" y2="474.79999999999995" stroke="#000" stroke-width="1.4"/>
<line x1="81.70" y1="469.4" x2="81.70" y2="474.79999999999995" stroke="#000" stroke-width="1.4"/>
<line x1="99.35" y1="469.4" x2="99.35" y2="474.79999999999995" stroke="#000" stroke-width="1.4"/>
<line x1="117.00" y1="469.4" x2="117.00" y2="474.79999999999995" stroke="#000" stroke-width="1.4"/>
<line x1="134.65" y1="469.4" x2="134.65" y2="474.79999999999995" stroke="#000" stroke-width="1.4"/>
<line x1="152.30" y1="469.4" x2="152.30" y2="474.79999999999995" stroke="#000" stroke-width="1.4"/>
<line x1="169.95" y1="469.4" x2="169.95" y2="474.79999999999995" stroke="#000" stroke-width="1.4"/>
<line x1="187.60" y1="469.4" x2="187.60" y2="474.79999999999995" stroke="#000" stroke-width="1.4"/>
<line x1="205.25" y1="469.4" x2="205.25" y2="474.79999999999995" stroke="#000" stroke-width="1.4"/>
<line x1="222.90" y1="469.4" x2="222.90" y2="474.79999999999995" stroke="#000" stroke-width="1.4"/>
<polyline points="46.40,399.75 64.05,466.06 81.70,466.89 99.35,467.73 117.00,468.01 134.65,468.29 152.30,468.56 169.95,468.70 187.60,468.84 205.25,468.84 222.90,468.56" fill="none" stroke="#8c8c8c" stroke-width="1.3"/>
<path d="M46.40,392.09 V407.41 M44.20,392.09 H48.60 M44.20,407.41 H48.60" stroke="#8c8c8c" stroke-width="0.9" fill="none"/>
<circle cx="46.40" cy="399.75" r="2.1" fill="#8c8c8c"/>
<circle cx="64.05" cy="466.06" r="2.1" fill="#8c8c8c"/>
<circle cx="81.70" cy="466.89" r="2.1" fill="#8c8c8c"/>
<circle cx="99.35" cy="467.73" r="2.1" fill="#8c8c8c"/>
<circle cx="117.00" cy="468.01" r="2.1" fill="#8c8c8c"/>
<circle cx="134.65" cy="468.29" r="2.1" fill="#8c8c8c"/>
<circle cx="152.30" cy="468.56" r="2.1" fill="#8c8c8c"/>
<circle cx="169.95" cy="468.70" r="2.1" fill="#8c8c8c"/>
<circle cx="187.60" cy="468.84" r="2.1" fill="#8c8c8c"/>
<circle cx="205.25" cy="468.84" r="2.1" fill="#8c8c8c"/>
<circle cx="222.90" cy="468.56" r="2.1" fill="#8c8c8c"/>
<polyline points="46.40,423.71 64.05,453.38 81.70,454.36 99.35,455.75 117.00,456.31 134.65,457.42 152.30,459.79 169.95,462.85 187.60,464.39 205.25,464.94 222.90,466.89" fill="none" stroke="#1c1c9c" stroke-width="1.3"/>
<path d="M46.40,422.32 V425.10 M44.20,422.32 H48.60 M44.20,425.10 H48.60" stroke="#1c1c9c" stroke-width="0.9" fill="none"/>
<circle cx="46.40" cy="423.71" r="2.1" fill="#1c1c9c"/>
<path d="M64.05,451.71 V455.05 M61.85,451.71 H66.25 M61.85,455.05 H66.25" stroke="#1c1c9c" stroke-width="0.9" fill="none"/>
<circle cx="64.05" cy="453.38" r="2.1" fill="#1c1c9c"/>
<path d="M81.70,452.96 V455.75 M79.50,452.96 H83.90 M79.50,455.75 H83.90" stroke="#1c1c9c" stroke-width="0.9" fill="none"/>
<circle cx="81.70" cy="454.36" r="2.1" fill="#1c1c9c"/>
<path d="M99.35,454.36 V457.14 M97.15,454.36 H101.55 M97.15,457.14 H101.55" stroke="#1c1c9c" stroke-width="0.9" fill="none"/>
<circle cx="99.35" cy="455.75" r="2.1" fill="#1c1c9c"/>
<path d="M117.00,454.91 V457.70 M114.80,454.91 H119.20 M114.80,457.70 H119.20" stroke="#1c1c9c" stroke-width="0.9" fill="none"/>
<circle cx="117.00" cy="456.31" r="2.1" fill="#1c1c9c"/>
<path d="M134.65,456.03 V458.81 M132.45,456.03 H136.85 M132.45,458.81 H136.85" stroke="#1c1c9c" stroke-width="0.9" fill="none"/>
<circle cx="134.65" cy="457.42" r="2.1" fill="#1c1c9c"/>
<path d="M152.30,457.98 V461.60 M150.10,457.98 H154.50 M150.10,461.60 H154.50" stroke="#1c1c9c" stroke-width="0.9" fill="none"/>
<circle cx="152.30" cy="459.79" r="2.1" fill="#1c1c9c"/>
<path d="M169.95,461.18 V464.52 M167.75,461.18 H172.15 M167.75,464.52 H172.15" stroke="#1c1c9c" stroke-width="0.9" fill="none"/>
<circle cx="169.95" cy="462.85" r="2.1" fill="#1c1c9c"/>
<path d="M187.60,462.99 V465.78 M185.40,462.99 H189.80 M185.40,465.78 H189.80" stroke="#1c1c9c" stroke-width="0.9" fill="none"/>
<circle cx="187.60" cy="464.39" r="2.1" fill="#1c1c9c"/>
<path d="M205.25,463.83 V466.06 M203.05,463.83 H207.45 M203.05,466.06 H207.45" stroke="#1c1c9c" stroke-width="0.9" fill="none"/>
<circle cx="205.25" cy="464.94" r="2.1" fill="#1c1c9c"/>
<circle cx="222.90" cy="466.89" r="2.1" fill="#1c1c9c"/>
<polyline points="46.40,377.18 64.05,393.48 81.70,396.27 99.35,399.75 117.00,415.77 134.65,424.82 152.30,426.77 169.95,439.87 187.60,445.44 205.25,452.96 222.90,459.93" fill="none" stroke="#1f6e1f" stroke-width="1.3"/>
<path d="M46.40,373.00 V381.36 M44.20,373.00 H48.60 M44.20,381.36 H48.60" stroke="#1f6e1f" stroke-width="0.9" fill="none"/>
<circle cx="46.40" cy="377.18" r="2.1" fill="#1f6e1f"/>
<path d="M64.05,390.70 V396.27 M61.85,390.70 H66.25 M61.85,396.27 H66.25" stroke="#1f6e1f" stroke-width="0.9" fill="none"/>
<circle cx="64.05" cy="393.48" r="2.1" fill="#1f6e1f"/>
<path d="M81.70,393.48 V399.05 M79.50,393.48 H83.90 M79.50,399.05 H83.90" stroke="#1f6e1f" stroke-width="0.9" fill="none"/>
<circle cx="81.70" cy="396.27" r="2.1" fill="#1f6e1f"/>
<path d="M99.35,396.27 V403.23 M97.15,396.27 H101.55 M97.15,403.23 H101.55" stroke="#1f6e1f" stroke-width="0.9" fill="none"/>
<circle cx="99.35" cy="399.75" r="2.1" fill="#1f6e1f"/>
<path d="M117.00,414.10 V417.44 M114.80,414.10 H119.20 M114.80,417.44 H119.20" stroke="#1f6e1f" stroke-width="0.9" fill="none"/>
<circle cx="117.00" cy="415.77" r="2.1" fill="#1f6e1f"/>
<path d="M134.65,423.15 V426.50 M132.45,423.15 H136.85 M132.45,426.50 H136.85" stroke="#1f6e1f" stroke-width="0.9" fill="none"/>
<circle cx="134.65" cy="424.82" r="2.1" fill="#1f6e1f"/>
<circle cx="152.30" cy="426.77" r="2.1" fill="#1f6e1f"/>
<circle cx="169.95" cy="439.87" r="2.1" fill="#1f6e1f"/>
<circle cx="187.60" cy="445.44" r="2.1" fill="#1f6e1f"/>
<circle cx="205.25" cy="452.96" r="2.1" fill="#1f6e1f"/>
<path d="M222.90,458.26 V461.60 M220.70,458.26 H225.10 M220.70,461.60 H225.10" stroke="#1f6e1f" stroke-width="0.9" fill="none"/>
<circle cx="222.90" cy="459.93" r="2.1" fill="#1f6e1f"/>
<polyline points="46.40,330.10 64.05,352.39 81.70,359.35 99.35,365.62 117.00,387.21 134.65,394.87 152.30,405.04 169.95,418.97 187.60,439.03 205.25,446.83 222.90,462.16" fill="none" stroke="#b01c1c" stroke-width="1.3"/>
<circle cx="46.40" cy="330.10" r="2.1" fill="#b01c1c"/>
<path d="M64.05,348.91 V355.87 M61.85,348.91 H66.25 M61.85,355.87 H66.25" stroke="#b01c1c" stroke-width="0.9" fill="none"/>
<circle cx="64.05" cy="352.39" r="2.1" fill="#b01c1c"/>
<path d="M81.70,357.26 V361.44 M79.50,357.26 H83.90 M79.50,361.44 H83.90" stroke="#b01c1c" stroke-width="0.9" fill="none"/>
<circle cx="81.70" cy="359.35" r="2.1" fill="#b01c1c"/>
<path d="M99.35,363.95 V367.29 M97.15,363.95 H101.55 M97.15,367.29 H101.55" stroke="#b01c1c" stroke-width="0.9" fill="none"/>
<circle cx="99.35" cy="365.62" r="2.1" fill="#b01c1c"/>
<path d="M117.00,384.43 V390.00 M114.80,384.43 H119.20 M114.80,390.00 H119.20" stroke="#b01c1c" stroke-width="0.9" fill="none"/>
<circle cx="117.00" cy="387.21" r="2.1" fill="#b01c1c"/>
<path d="M134.65,393.20 V396.55 M132.45,393.20 H136.85 M132.45,396.55 H136.85" stroke="#b01c1c" stroke-width="0.9" fill="none"/>
<circle cx="134.65" cy="394.87" r="2.1" fill="#b01c1c"/>
<path d="M152.30,403.65 V406.44 M150.10,403.65 H154.50 M150.10,406.44 H154.50" stroke="#b01c1c" stroke-width="0.9" fill="none"/>
<circle cx="152.30" cy="405.04" r="2.1" fill="#b01c1c"/>
<circle cx="169.95" cy="418.97" r="2.1" fill="#b01c1c"/>
<circle cx="187.60" cy="439.03" r="2.1" fill="#b01c1c"/>
<circle cx="205.25" cy="446.83" r="2.1" fill="#b01c1c"/>
<path d="M222.90,460.48 V463.83 M220.70,460.48 H225.10 M220.70,463.83 H225.10" stroke="#b01c1c" stroke-width="0.9" fill="none"/>
<circle cx="222.90" cy="462.16" r="2.1" fill="#b01c1c"/>
<text x="49.40" y="483.50" font-size="11" text-anchor="end" fill="#111" stroke="#111" stroke-width="0.1" transform="rotate(-45 49.40 483.50)">1 min</text>
<text x="67.05" y="483.50" font-size="11" text-anchor="end" fill="#111" stroke="#111" stroke-width="0.1" transform="rotate(-45 67.05 483.50)">10 min</text>
<text x="84.70" y="483.50" font-size="11" text-anchor="end" fill="#111" stroke="#111" stroke-width="0.1" transform="rotate(-45 84.70 483.50)">30 min</text>
<text x="102.35" y="483.50" font-size="11" text-anchor="end" fill="#111" stroke="#111" stroke-width="0.1" transform="rotate(-45 102.35 483.50)">1 h</text>
<text x="120.00" y="483.50" font-size="11" text-anchor="end" fill="#111" stroke="#111" stroke-width="0.1" transform="rotate(-45 120.00 483.50)">3 h</text>
<text x="137.65" y="483.50" font-size="11" text-anchor="end" fill="#111" stroke="#111" stroke-width="0.1" transform="rotate(-45 137.65 483.50)">6 h</text>
<text x="155.30" y="483.50" font-size="11" text-anchor="end" fill="#111" stroke="#111" stroke-width="0.1" transform="rotate(-45 155.30 483.50)">12 h</text>
<text x="172.95" y="483.50" font-size="11" text-anchor="end" fill="#111" stroke="#111" stroke-width="0.1" transform="rotate(-45 172.95 483.50)">24 h</text>
<text x="190.60" y="483.50" font-size="11" text-anchor="end" fill="#111" stroke="#111" stroke-width="0.1" transform="rotate(-45 190.60 483.50)">48 h</text>
<text x="208.25" y="483.50" font-size="11" text-anchor="end" fill="#111" stroke="#111" stroke-width="0.1" transform="rotate(-45 208.25 483.50)">72 h</text>
<text x="225.90" y="483.50" font-size="11" text-anchor="end" fill="#111" stroke="#111" stroke-width="0.1" transform="rotate(-45 225.90 483.50)">168 h</text>
<text x="135.1" y="523.3" font-size="12.2" text-anchor="middle" fill="#111" stroke="#111" stroke-width="0.1" >Time post injection</text>
<line x1="205.6" y1="344.4" x2="219" y2="344.4" stroke="#1f6e1f" stroke-width="1.3"/>
<circle cx="212.2" cy="344.4" r="2" fill="#1f6e1f"/>
<text x="225" y="348.4" font-size="11" text-anchor="start" fill="#1a1a1a" stroke="#1a1a1a" stroke-width="0.1" >IR-780</text>
<line x1="205.6" y1="360.3" x2="219" y2="360.3" stroke="#b01c1c" stroke-width="1.3"/>
<circle cx="212.2" cy="360.3" r="2" fill="#b01c1c"/>
<text x="225" y="364.3" font-size="11" text-anchor="start" fill="#1a1a1a" stroke="#1a1a1a" stroke-width="0.1" >IR-808</text>
<line x1="205.6" y1="375.5" x2="219" y2="375.5" stroke="#1c1c9c" stroke-width="1.3"/>
<circle cx="212.2" cy="375.5" r="2" fill="#1c1c9c"/>
<text x="225" y="379.5" font-size="11" text-anchor="start" fill="#1a1a1a" stroke="#1a1a1a" stroke-width="0.1" >IR-783</text>
<line x1="205.6" y1="392.3" x2="219" y2="392.3" stroke="#8c8c8c" stroke-width="1.3"/>
<circle cx="212.2" cy="392.3" r="2" fill="#8c8c8c"/>
<text x="225" y="396.3" font-size="11" text-anchor="start" fill="#1a1a1a" stroke="#1a1a1a" stroke-width="0.1" >ICG</text>
<text x="3.1" y="550.2" font-size="19.5" text-anchor="start" fill="#111" stroke="#111" stroke-width="0.1" >d</text>
<text x="44" y="586.4" font-size="9.5" text-anchor="end" fill="#1a1a1a" stroke="#1a1a1a" stroke-width="0.1" >60 kDa</text>
<text x="44" y="652.2" font-size="9.5" text-anchor="end" fill="#1a1a1a" stroke="#1a1a1a" stroke-width="0.1" >10 kDa</text>
<rect x="53" y="555.3" width="213" height="99.7" fill="#d6f2fc"/>
<rect x="85.70" y="599" width="5" height="56" fill="#f2fbff" filter="url(#dblur)"/>
<rect x="103.30" y="599" width="5" height="56" fill="#f2fbff" filter="url(#dblur)"/>
<rect x="120.90" y="599" width="5" height="56" fill="#f2fbff" filter="url(#dblur)"/>
<rect x="138.50" y="599" width="5" height="56" fill="#f2fbff" filter="url(#dblur)"/>
<rect x="156.10" y="599" width="5" height="56" fill="#f2fbff" filter="url(#dblur)"/>
<rect x="173.70" y="599" width="5" height="56" fill="#f2fbff" filter="url(#dblur)"/>
<rect x="191.30" y="599" width="5" height="56" fill="#f2fbff" filter="url(#dblur)"/>
<rect x="208.90" y="599" width="5" height="56" fill="#f2fbff" filter="url(#dblur)"/>
<rect x="226.50" y="599" width="5" height="56" fill="#f2fbff" filter="url(#dblur)"/>
<rect x="244.10" y="599" width="5" height="56" fill="#f2fbff" filter="url(#dblur)"/>
<g filter="url(#dblur)">
<rect x="73.80" y="594" width="11.2" height="58" fill="url(#dlow)"/>
<path d="M72.20,555.5 L86.60,555.5 C87.60,566 89.20,575 89.20,586 C89.20,594 85.40,597.6 79.40,597.8 C73.40,597.6 69.60,594 69.60,586 C69.60,575 71.20,566 72.20,555.5 Z" fill="url(#dband)"/>
<ellipse cx="79.40" cy="644.2" rx="6.6" ry="4.0" fill="#1e9af0"/>
<rect x="74.40" y="605" width="10" height="2" fill="#5ab4f2" opacity="0.3"/>
<rect x="74.40" y="612" width="10" height="2" fill="#5ab4f2" opacity="0.25"/>
<rect x="74.40" y="619" width="10" height="2" fill="#5ab4f2" opacity="0.3"/>
<rect x="74.40" y="630" width="10" height="2" fill="#5ab4f2" opacity="0.2"/>
</g>
<g filter="url(#dblur)">
<rect x="91.40" y="594" width="11.2" height="58" fill="url(#dlow)"/>
<path d="M89.80,555.5 L104.20,555.5 C105.20,566 106.80,575 106.80,586 C106.80,594 103.00,597.6 97.00,597.8 C91.00,597.6 87.20,594 87.20,586 C87.20,575 88.80,566 89.80,555.5 Z" fill="url(#dband)"/>
<ellipse cx="97.00" cy="644.2" rx="6.6" ry="4.0" fill="#1e9af0"/>
<rect x="92.00" y="605" width="10" height="2" fill="#5ab4f2" opacity="0.3"/>
<rect x="92.00" y="612" width="10" height="2" fill="#5ab4f2" opacity="0.25"/>
<rect x="92.00" y="619" width="10" height="2" fill="#5ab4f2" opacity="0.3"/>
<rect x="92.00" y="630" width="10" height="2" fill="#5ab4f2" opacity="0.2"/>
</g>
<g filter="url(#dblur)">
<rect x="109.00" y="594" width="11.2" height="58" fill="url(#dlow)"/>
<path d="M107.40,555.5 L121.80,555.5 C122.80,566 124.40,575 124.40,586 C124.40,594 120.60,597.6 114.60,597.8 C108.60,597.6 104.80,594 104.80,586 C104.80,575 106.40,566 107.40,555.5 Z" fill="url(#dband)"/>
<ellipse cx="114.60" cy="644.2" rx="6.6" ry="4.0" fill="#1e9af0"/>
<rect x="109.60" y="605" width="10" height="2" fill="#5ab4f2" opacity="0.3"/>
<rect x="109.60" y="612" width="10" height="2" fill="#5ab4f2" opacity="0.25"/>
<rect x="109.60" y="619" width="10" height="2" fill="#5ab4f2" opacity="0.3"/>
<rect x="109.60" y="630" width="10" height="2" fill="#5ab4f2" opacity="0.2"/>
</g>
<g filter="url(#dblur)">
<rect x="126.60" y="594" width="11.2" height="58" fill="url(#dlow)"/>
<path d="M125.00,555.5 L139.40,555.5 C140.40,566 142.00,575 142.00,586 C142.00,594 138.20,597.6 132.20,597.8 C126.20,597.6 122.40,594 122.40,586 C122.40,575 124.00,566 125.00,555.5 Z" fill="url(#dband)"/>
<ellipse cx="132.20" cy="644.2" rx="6.6" ry="4.0" fill="#1e9af0"/>
<rect x="127.20" y="605" width="10" height="2" fill="#5ab4f2" opacity="0.3"/>
<rect x="127.20" y="612" width="10" height="2" fill="#5ab4f2" opacity="0.25"/>
<rect x="127.20" y="619" width="10" height="2" fill="#5ab4f2" opacity="0.3"/>
<rect x="127.20" y="630" width="10" height="2" fill="#5ab4f2" opacity="0.2"/>
</g>
<g filter="url(#dblur)">
<rect x="144.20" y="594" width="11.2" height="58" fill="url(#dlow)"/>
<path d="M142.60,555.5 L157.00,555.5 C158.00,566 159.60,575 159.60,586 C159.60,594 155.80,597.6 149.80,597.8 C143.80,597.6 140.00,594 140.00,586 C140.00,575 141.60,566 142.60,555.5 Z" fill="url(#dband)"/>
<ellipse cx="149.80" cy="644.2" rx="6.6" ry="4.0" fill="#1e9af0"/>
<rect x="144.80" y="605" width="10" height="2" fill="#5ab4f2" opacity="0.3"/>
<rect x="144.80" y="612" width="10" height="2" fill="#5ab4f2" opacity="0.25"/>
<rect x="144.80" y="619" width="10" height="2" fill="#5ab4f2" opacity="0.3"/>
<rect x="144.80" y="630" width="10" height="2" fill="#5ab4f2" opacity="0.2"/>
</g>
<g filter="url(#dblur)">
<rect x="161.80" y="594" width="11.2" height="58" fill="url(#dlow)"/>
<path d="M160.20,555.5 L174.60,555.5 C175.60,566 177.20,575 177.20,586 C177.20,594 173.40,597.6 167.40,597.8 C161.40,597.6 157.60,594 157.60,586 C157.60,575 159.20,566 160.20,555.5 Z" fill="url(#dband)"/>
<ellipse cx="167.40" cy="644.2" rx="6.6" ry="4.0" fill="#1e9af0"/>
<rect x="162.40" y="605" width="10" height="2" fill="#5ab4f2" opacity="0.3"/>
<rect x="162.40" y="612" width="10" height="2" fill="#5ab4f2" opacity="0.25"/>
<rect x="162.40" y="619" width="10" height="2" fill="#5ab4f2" opacity="0.3"/>
<rect x="162.40" y="630" width="10" height="2" fill="#5ab4f2" opacity="0.2"/>
</g>
<g filter="url(#dblur)">
<rect x="179.40" y="594" width="11.2" height="58" fill="url(#dlow)"/>
<path d="M177.80,555.5 L192.20,555.5 C193.20,566 194.80,575 194.80,586 C194.80,594 191.00,597.6 185.00,597.8 C179.00,597.6 175.20,594 175.20,586 C175.20,575 176.80,566 177.80,555.5 Z" fill="url(#dband)"/>
<ellipse cx="185.00" cy="644.2" rx="6.6" ry="4.0" fill="#1e9af0"/>
<rect x="180.00" y="605" width="10" height="2" fill="#5ab4f2" opacity="0.3"/>
<rect x="180.00" y="612" width="10" height="2" fill="#5ab4f2" opacity="0.25"/>
<rect x="180.00" y="619" width="10" height="2" fill="#5ab4f2" opacity="0.3"/>
<rect x="180.00" y="630" width="10" height="2" fill="#5ab4f2" opacity="0.2"/>
</g>
<g filter="url(#dblur)">
<rect x="197.00" y="594" width="11.2" height="58" fill="url(#dlow)"/>
<path d="M195.40,555.5 L209.80,555.5 C210.80,566 212.40,575 212.40,586 C212.40,594 208.60,597.6 202.60,597.8 C196.60,597.6 192.80,594 192.80,586 C192.80,575 194.40,566 195.40,555.5 Z" fill="url(#dband)"/>
<ellipse cx="202.60" cy="644.2" rx="6.6" ry="4.0" fill="#1e9af0"/>
<rect x="197.60" y="605" width="10" height="2" fill="#5ab4f2" opacity="0.3"/>
<rect x="197.60" y="612" width="10" height="2" fill="#5ab4f2" opacity="0.25"/>
<rect x="197.60" y="619" width="10" height="2" fill="#5ab4f2" opacity="0.3"/>
<rect x="197.60" y="630" width="10" height="2" fill="#5ab4f2" opacity="0.2"/>
</g>
<g filter="url(#dblur)">
<rect x="214.60" y="594" width="11.2" height="58" fill="url(#dlow)"/>
<path d="M213.00,555.5 L227.40,555.5 C228.40,566 230.00,575 230.00,586 C230.00,594 226.20,597.6 220.20,597.8 C214.20,597.6 210.40,594 210.40,586 C210.40,575 212.00,566 213.00,555.5 Z" fill="url(#dband)"/>
<ellipse cx="220.20" cy="644.2" rx="6.6" ry="4.0" fill="#1e9af0"/>
<rect x="215.20" y="605" width="10" height="2" fill="#5ab4f2" opacity="0.3"/>
<rect x="215.20" y="612" width="10" height="2" fill="#5ab4f2" opacity="0.25"/>
<rect x="215.20" y="619" width="10" height="2" fill="#5ab4f2" opacity="0.3"/>
<rect x="215.20" y="630" width="10" height="2" fill="#5ab4f2" opacity="0.2"/>
</g>
<g filter="url(#dblur)">
<rect x="232.20" y="594" width="11.2" height="58" fill="url(#dlow)"/>
<path d="M230.60,555.5 L245.00,555.5 C246.00,566 247.60,575 247.60,586 C247.60,594 243.80,597.6 237.80,597.8 C231.80,597.6 228.00,594 228.00,586 C228.00,575 229.60,566 230.60,555.5 Z" fill="url(#dband)"/>
<ellipse cx="237.80" cy="644.2" rx="6.6" ry="4.0" fill="#1e9af0"/>
<rect x="232.80" y="605" width="10" height="2" fill="#5ab4f2" opacity="0.3"/>
<rect x="232.80" y="612" width="10" height="2" fill="#5ab4f2" opacity="0.25"/>
<rect x="232.80" y="619" width="10" height="2" fill="#5ab4f2" opacity="0.3"/>
<rect x="232.80" y="630" width="10" height="2" fill="#5ab4f2" opacity="0.2"/>
</g>
<g filter="url(#dblur)">
<rect x="249.80" y="594" width="11.2" height="58" fill="url(#dlow)"/>
<path d="M248.20,555.5 L262.60,555.5 C263.60,566 265.20,575 265.20,586 C265.20,594 261.40,597.6 255.40,597.8 C249.40,597.6 245.60,594 245.60,586 C245.60,575 247.20,566 248.20,555.5 Z" fill="url(#dband)"/>
<ellipse cx="255.40" cy="644.2" rx="6.6" ry="4.0" fill="#1e9af0"/>
<rect x="250.40" y="605" width="10" height="2" fill="#5ab4f2" opacity="0.3"/>
<rect x="250.40" y="612" width="10" height="2" fill="#5ab4f2" opacity="0.25"/>
<rect x="250.40" y="619" width="10" height="2" fill="#5ab4f2" opacity="0.3"/>
<rect x="250.40" y="630" width="10" height="2" fill="#5ab4f2" opacity="0.2"/>
</g>
<g filter="url(#blur07)">
<rect x="55.5" y="556" width="13.5" height="98" fill="#c4e8fa"/>
<rect x="55.5" y="557.0" width="13.5" height="5" rx="1.5" fill="#90ccf4"/>
<rect x="55.5" y="564.0" width="13.5" height="3.6" rx="1.5" fill="#4a90ea"/>
<rect x="55.5" y="580.5" width="13.5" height="5" rx="1.5" fill="#80c4f2"/>
<rect x="55.5" y="602.6999999999999" width="13.5" height="3.2" rx="1.5" fill="#5eb0f0"/>
<rect x="55.5" y="625.3" width="13.5" height="4" rx="1.5" fill="#58acf0"/>
<rect x="55.5" y="644.7" width="13.5" height="5" rx="1.5" fill="#44a4f0"/>
<rect x="55.5" y="651.5" width="13.5" height="2" rx="1.5" fill="#90d0f4"/>
</g>
<rect x="64.5" y="569.2" width="202" height="29.4" fill="none" stroke="#f05a46" stroke-width="1.4" stroke-dasharray="3.6 2.4"/>
<text x="160" y="614.5" font-size="12" text-anchor="middle" fill="#111" stroke="#111" stroke-width="0.1" >Albumin</text>
<text x="3.4" y="696.2" font-size="19.5" text-anchor="start" fill="#111" stroke="#111" stroke-width="0.1" >e</text>
<text x="129.1" y="700.5" font-size="12.35" text-anchor="middle" fill="#111" stroke="#111" stroke-width="0.1" >Gel electrophoresis</text>
<text x="0" y="0" font-size="12.5" text-anchor="middle" fill="#111" stroke="#111" stroke-width="0.1" transform="translate(10.2 794.6) rotate(-90)">Normalized intensity</text>
<line x1="37.6" y1="723.6" x2="37.6" y2="864.6" stroke="#000" stroke-width="1.6"/>
<line x1="36.8" y1="863.6" x2="234.9" y2="863.6" stroke="#000" stroke-width="1.6"/>
<line x1="32.3" y1="863.60" x2="37.6" y2="863.60" stroke="#000" stroke-width="1.4"/>
<text x="31.2" y="867.2" font-size="10" text-anchor="end" fill="#1a1a1a" stroke="#1a1a1a" stroke-width="0.1" >0.0</text>
<line x1="32.3" y1="835.74" x2="37.6" y2="835.74" stroke="#000" stroke-width="1.4"/>
<text x="31.2" y="839.34" font-size="10" text-anchor="end" fill="#1a1a1a" stroke="#1a1a1a" stroke-width="0.1" >0.2</text>
<line x1="32.3" y1="807.88" x2="37.6" y2="807.88" stroke="#000" stroke-width="1.4"/>
<text x="31.2" y="811.48" font-size="10" text-anchor="end" fill="#1a1a1a" stroke="#1a1a1a" stroke-width="0.1" >0.4</text>
<line x1="32.3" y1="780.02" x2="37.6" y2="780.02" stroke="#000" stroke-width="1.4"/>
<text x="31.2" y="783.62" font-size="10" text-anchor="end" fill="#1a1a1a" stroke="#1a1a1a" stroke-width="0.1" >0.6</text>
<line x1="32.3" y1="752.16" x2="37.6" y2="752.16" stroke="#000" stroke-width="1.4"/>
<text x="31.2" y="755.76" font-size="10" text-anchor="end" fill="#1a1a1a" stroke="#1a1a1a" stroke-width="0.1" >0.8</text>
<line x1="32.3" y1="724.30" x2="37.6" y2="724.30" stroke="#000" stroke-width="1.4"/>
<text x="31.2" y="727.9" font-size="10" text-anchor="end" fill="#1a1a1a" stroke="#1a1a1a" stroke-width="0.1" >1.0</text>
<line x1="46.40" y1="863.6" x2="46.40" y2="869.0" stroke="#000" stroke-width="1.4"/>
<line x1="64.20" y1="863.6" x2="64.20" y2="869.0" stroke="#000" stroke-width="1.4"/>
<line x1="82.00" y1="863.6" x2="82.00" y2="869.0" stroke="#000" stroke-width="1.4"/>
<line x1="99.80" y1="863.6" x2="99.80" y2="869.0" stroke="#000" stroke-width="1.4"/>
<line x1="117.60" y1="863.6" x2="117.60" y2="869.0" stroke="#000" stroke-width="1.4"/>
<line x1="135.40" y1="863.6" x2="135.40" y2="869.0" stroke="#000" stroke-width="1.4"/>
<line x1="153.20" y1="863.6" x2="153.20" y2="869.0" stroke="#000" stroke-width="1.4"/>
<line x1="171.00" y1="863.6" x2="171.00" y2="869.0" stroke="#000" stroke-width="1.4"/>
<line x1="188.80" y1="863.6" x2="188.80" y2="869.0" stroke="#000" stroke-width="1.4"/>
<line x1="206.60" y1="863.6" x2="206.60" y2="869.0" stroke="#000" stroke-width="1.4"/>
<line x1="224.40" y1="863.6" x2="224.40" y2="869.0" stroke="#000" stroke-width="1.4"/>
<polyline points="46.40,800.91 64.20,858.72 82.00,859.42 99.80,861.51 117.60,862.90 135.40,863.04 153.20,863.18 171.00,863.18 188.80,863.18 206.60,863.18 224.40,863.04" fill="none" stroke="#8c8c8c" stroke-width="1.3"/>
<path d="M46.40,793.95 V807.88 M44.20,793.95 H48.60 M44.20,807.88 H48.60" stroke="#8c8c8c" stroke-width="0.9" fill="none"/>
<circle cx="46.40" cy="800.91" r="2.1" fill="#8c8c8c"/>
<circle cx="64.20" cy="858.72" r="2.1" fill="#8c8c8c"/>
<circle cx="82.00" cy="859.42" r="2.1" fill="#8c8c8c"/>
<circle cx="99.80" cy="861.51" r="2.1" fill="#8c8c8c"/>
<circle cx="117.60" cy="862.90" r="2.1" fill="#8c8c8c"/>
<circle cx="135.40" cy="863.04" r="2.1" fill="#8c8c8c"/>
<circle cx="153.20" cy="863.18" r="2.1" fill="#8c8c8c"/>
<circle cx="171.00" cy="863.18" r="2.1" fill="#8c8c8c"/>
<circle cx="188.80" cy="863.18" r="2.1" fill="#8c8c8c"/>
<circle cx="206.60" cy="863.18" r="2.1" fill="#8c8c8c"/>
<circle cx="224.40" cy="863.04" r="2.1" fill="#8c8c8c"/>
<polyline points="46.40,807.88 64.20,842.98 82.00,843.40 99.80,844.79 117.60,847.58 135.40,849.81 153.20,850.37 171.00,854.55 188.80,856.22 206.60,858.03 224.40,860.95" fill="none" stroke="#1c1c9c" stroke-width="1.3"/>
<path d="M46.40,803.70 V812.06 M44.20,803.70 H48.60 M44.20,812.06 H48.60" stroke="#1c1c9c" stroke-width="0.9" fill="none"/>
<circle cx="46.40" cy="807.88" r="2.1" fill="#1c1c9c"/>
<path d="M64.20,841.31 V844.66 M62.00,841.31 H66.40 M62.00,844.66 H66.40" stroke="#1c1c9c" stroke-width="0.9" fill="none"/>
<circle cx="64.20" cy="842.98" r="2.1" fill="#1c1c9c"/>
<path d="M82.00,841.31 V845.49 M79.80,841.31 H84.20 M79.80,845.49 H84.20" stroke="#1c1c9c" stroke-width="0.9" fill="none"/>
<circle cx="82.00" cy="843.40" r="2.1" fill="#1c1c9c"/>
<path d="M99.80,842.70 V846.88 M97.60,842.70 H102.00 M97.60,846.88 H102.00" stroke="#1c1c9c" stroke-width="0.9" fill="none"/>
<circle cx="99.80" cy="844.79" r="2.1" fill="#1c1c9c"/>
<path d="M117.60,846.19 V848.97 M115.40,846.19 H119.80 M115.40,848.97 H119.80" stroke="#1c1c9c" stroke-width="0.9" fill="none"/>
<circle cx="117.60" cy="847.58" r="2.1" fill="#1c1c9c"/>
<circle cx="135.40" cy="849.81" r="2.1" fill="#1c1c9c"/>
<path d="M153.20,849.25 V851.48 M151.00,849.25 H155.40 M151.00,851.48 H155.40" stroke="#1c1c9c" stroke-width="0.9" fill="none"/>
<circle cx="153.20" cy="850.37" r="2.1" fill="#1c1c9c"/>
<circle cx="171.00" cy="854.55" r="2.1" fill="#1c1c9c"/>
<circle cx="188.80" cy="856.22" r="2.1" fill="#1c1c9c"/>
<circle cx="206.60" cy="858.03" r="2.1" fill="#1c1c9c"/>
<circle cx="224.40" cy="860.95" r="2.1" fill="#1c1c9c"/>
<polyline points="46.40,781.41 64.20,790.89 82.00,798.13 99.80,807.88 117.60,816.93 135.40,822.51 153.20,825.71 171.00,836.02 188.80,841.31 206.60,844.10 224.40,852.73" fill="none" stroke="#1f6e1f" stroke-width="1.3"/>
<path d="M46.40,772.36 V790.47 M44.20,772.36 H48.60 M44.20,790.47 H48.60" stroke="#1f6e1f" stroke-width="0.9" fill="none"/>
<circle cx="46.40" cy="781.41" r="2.1" fill="#1f6e1f"/>
<path d="M64.20,783.92 V797.85 M62.00,783.92 H66.40 M62.00,797.85 H66.40" stroke="#1f6e1f" stroke-width="0.9" fill="none"/>
<circle cx="64.20" cy="790.89" r="2.1" fill="#1f6e1f"/>
<path d="M82.00,791.16 V805.09 M79.80,791.16 H84.20 M79.80,805.09 H84.20" stroke="#1f6e1f" stroke-width="0.9" fill="none"/>
<circle cx="82.00" cy="798.13" r="2.1" fill="#1f6e1f"/>
<path d="M99.80,802.31 V813.45 M97.60,802.31 H102.00 M97.60,813.45 H102.00" stroke="#1f6e1f" stroke-width="0.9" fill="none"/>
<circle cx="99.80" cy="807.88" r="2.1" fill="#1f6e1f"/>
<path d="M117.60,812.06 V821.81 M115.40,812.06 H119.80 M115.40,821.81 H119.80" stroke="#1f6e1f" stroke-width="0.9" fill="none"/>
<circle cx="117.60" cy="816.93" r="2.1" fill="#1f6e1f"/>
<path d="M135.40,818.61 V826.41 M133.20,818.61 H137.60 M133.20,826.41 H137.60" stroke="#1f6e1f" stroke-width="0.9" fill="none"/>
<circle cx="135.40" cy="822.51" r="2.1" fill="#1f6e1f"/>
<path d="M153.20,822.23 V829.19 M151.00,822.23 H155.40 M151.00,829.19 H155.40" stroke="#1f6e1f" stroke-width="0.9" fill="none"/>
<circle cx="153.20" cy="825.71" r="2.1" fill="#1f6e1f"/>
<path d="M171.00,833.93 V838.11 M168.80,833.93 H173.20 M168.80,838.11 H173.20" stroke="#1f6e1f" stroke-width="0.9" fill="none"/>
<circle cx="171.00" cy="836.02" r="2.1" fill="#1f6e1f"/>
<path d="M188.80,839.22 V843.40 M186.60,839.22 H191.00 M186.60,843.40 H191.00" stroke="#1f6e1f" stroke-width="0.9" fill="none"/>
<circle cx="188.80" cy="841.31" r="2.1" fill="#1f6e1f"/>
<path d="M206.60,842.01 V846.19 M204.40,842.01 H208.80 M204.40,846.19 H208.80" stroke="#1f6e1f" stroke-width="0.9" fill="none"/>
<circle cx="206.60" cy="844.10" r="2.1" fill="#1f6e1f"/>
<path d="M224.40,851.34 V854.13 M222.20,851.34 H226.60 M222.20,854.13 H226.60" stroke="#1f6e1f" stroke-width="0.9" fill="none"/>
<circle cx="224.40" cy="852.73" r="2.1" fill="#1f6e1f"/>
<polyline points="46.40,725.69 64.20,742.41 82.00,755.64 99.80,775.84 117.60,792.28 135.40,795.34 153.20,799.24 171.00,824.04 188.80,836.02 206.60,840.20 224.40,853.85" fill="none" stroke="#b01c1c" stroke-width="1.3"/>
<circle cx="46.40" cy="725.69" r="2.1" fill="#b01c1c"/>
<circle cx="64.20" cy="742.41" r="2.1" fill="#b01c1c"/>
<circle cx="82.00" cy="755.64" r="2.1" fill="#b01c1c"/>
<circle cx="99.80" cy="775.84" r="2.1" fill="#b01c1c"/>
<circle cx="117.60" cy="792.28" r="2.1" fill="#b01c1c"/>
<circle cx="135.40" cy="795.34" r="2.1" fill="#b01c1c"/>
<circle cx="153.20" cy="799.24" r="2.1" fill="#b01c1c"/>
<circle cx="171.00" cy="824.04" r="2.1" fill="#b01c1c"/>
<circle cx="188.80" cy="836.02" r="2.1" fill="#b01c1c"/>
<circle cx="206.60" cy="840.20" r="2.1" fill="#b01c1c"/>
<circle cx="224.40" cy="853.85" r="2.1" fill="#b01c1c"/>
<text x="49.40" y="877.70" font-size="11" text-anchor="end" fill="#111" stroke="#111" stroke-width="0.1" transform="rotate(-45 49.40 877.70)">1 min</text>
<text x="67.20" y="877.70" font-size="11" text-anchor="end" fill="#111" stroke="#111" stroke-width="0.1" transform="rotate(-45 67.20 877.70)">10 min</text>
<text x="85.00" y="877.70" font-size="11" text-anchor="end" fill="#111" stroke="#111" stroke-width="0.1" transform="rotate(-45 85.00 877.70)">30 min</text>
<text x="102.80" y="877.70" font-size="11" text-anchor="end" fill="#111" stroke="#111" stroke-width="0.1" transform="rotate(-45 102.80 877.70)">1 h</text>
<text x="120.60" y="877.70" font-size="11" text-anchor="end" fill="#111" stroke="#111" stroke-width="0.1" transform="rotate(-45 120.60 877.70)">3 h</text>
<text x="138.40" y="877.70" font-size="11" text-anchor="end" fill="#111" stroke="#111" stroke-width="0.1" transform="rotate(-45 138.40 877.70)">6 h</text>
<text x="156.20" y="877.70" font-size="11" text-anchor="end" fill="#111" stroke="#111" stroke-width="0.1" transform="rotate(-45 156.20 877.70)">12 h</text>
<text x="174.00" y="877.70" font-size="11" text-anchor="end" fill="#111" stroke="#111" stroke-width="0.1" transform="rotate(-45 174.00 877.70)">24 h</text>
<text x="191.80" y="877.70" font-size="11" text-anchor="end" fill="#111" stroke="#111" stroke-width="0.1" transform="rotate(-45 191.80 877.70)">48 h</text>
<text x="209.60" y="877.70" font-size="11" text-anchor="end" fill="#111" stroke="#111" stroke-width="0.1" transform="rotate(-45 209.60 877.70)">72 h</text>
<text x="227.40" y="877.70" font-size="11" text-anchor="end" fill="#111" stroke="#111" stroke-width="0.1" transform="rotate(-45 227.40 877.70)">168 h</text>
<text x="135.4" y="918.3" font-size="12.35" text-anchor="middle" fill="#111" stroke="#111" stroke-width="0.1" >Time post injection</text>
<line x1="169.9" y1="740.3" x2="182.8" y2="740.3" stroke="#1f6e1f" stroke-width="1.3"/>
<circle cx="176.7" cy="740.3" r="2" fill="#1f6e1f"/>
<text x="190" y="744.3" font-size="11" text-anchor="start" fill="#1a1a1a" stroke="#1a1a1a" stroke-width="0.1" >IR-780@albumin</text>
<line x1="169.9" y1="755.7" x2="182.8" y2="755.7" stroke="#b01c1c" stroke-width="1.3"/>
<circle cx="176.7" cy="755.7" r="2" fill="#b01c1c"/>
<text x="190" y="759.7" font-size="11" text-anchor="start" fill="#1a1a1a" stroke="#1a1a1a" stroke-width="0.1" >IR-808@albumin</text>
<line x1="169.9" y1="771.2" x2="182.8" y2="771.2" stroke="#1c1c9c" stroke-width="1.3"/>
<circle cx="176.7" cy="771.2" r="2" fill="#1c1c9c"/>
<text x="190" y="775.2" font-size="11" text-anchor="start" fill="#1a1a1a" stroke="#1a1a1a" stroke-width="0.1" >IR-783@albumin</text>
<line x1="169.9" y1="786.4" x2="182.8" y2="786.4" stroke="#8c8c8c" stroke-width="1.3"/>
<circle cx="176.7" cy="786.4" r="2" fill="#8c8c8c"/>
<text x="190" y="790.4" font-size="11" text-anchor="start" fill="#1a1a1a" stroke="#1a1a1a" stroke-width="0.1" >ICG</text>
<text x="315.3" y="313.1" font-size="19.5" text-anchor="start" fill="#111" stroke="#111" stroke-width="0.1" >c</text>
<text x="423.40" y="327" font-size="12.3" fill="#111" stroke="#111" stroke-width="0.1" transform="rotate(-45 423.40 327)">1 min</text>
<text x="447.15" y="327" font-size="12.3" fill="#111" stroke="#111" stroke-width="0.1" transform="rotate(-45 447.15 327)">10 min</text>
<text x="470.90" y="327" font-size="12.3" fill="#111" stroke="#111" stroke-width="0.1" transform="rotate(-45 470.90 327)">30 min</text>
<text x="494.65" y="327" font-size="12.3" fill="#111" stroke="#111" stroke-width="0.1" transform="rotate(-45 494.65 327)">1 h</text>
<text x="518.40" y="327" font-size="12.3" fill="#111" stroke="#111" stroke-width="0.1" transform="rotate(-45 518.40 327)">3 h</text>
<text x="542.15" y="327" font-size="12.3" fill="#111" stroke="#111" stroke-width="0.1" transform="rotate(-45 542.15 327)">6 h</text>
<text x="565.90" y="327" font-size="12.3" fill="#111" stroke="#111" stroke-width="0.1" transform="rotate(-45 565.90 327)">12 h</text>
<text x="589.65" y="327" font-size="12.3" fill="#111" stroke="#111" stroke-width="0.1" transform="rotate(-45 589.65 327)">24 h</text>
<text x="613.40" y="327" font-size="12.3" fill="#111" stroke="#111" stroke-width="0.1" transform="rotate(-45 613.40 327)">48 h</text>
<text x="637.15" y="327" font-size="12.3" fill="#111" stroke="#111" stroke-width="0.1" transform="rotate(-45 637.15 327)">72 h</text>
<text x="660.90" y="327" font-size="12.3" fill="#111" stroke="#111" stroke-width="0.1" transform="rotate(-45 660.90 327)">168 h</text>
<rect x="389" y="335.5" width="283.5" height="138.7" fill="#030306"/>
<text x="335" y="411.8" font-size="13.7" text-anchor="middle" fill="#111" stroke="#111" stroke-width="0.1" >IR-780</text>
<text x="382.9" y="375.7" font-size="9.5" text-anchor="end" fill="#1a1a1a" stroke="#1a1a1a" stroke-width="0.1" >60 kDa</text>
<text x="382.9" y="470.2" font-size="9.5" text-anchor="end" fill="#1a1a1a" stroke="#1a1a1a" stroke-width="0.1" >10 kDa</text>
<rect x="393.5" y="363.9" width="15.5" height="2.4" rx="1.3" fill="#600810" filter="url(#blur07)"/>
<rect x="393.5" y="389.4" width="15.5" height="2.6" rx="1.3" fill="#700a10" filter="url(#blur07)"/>
<rect x="393.5" y="420.5" width="15.5" height="3.0" rx="1.3" fill="#a00c12" filter="url(#blur07)"/>
<rect x="391" y="446.2" width="18.5" height="5.6" rx="2.8" fill="#ff0a0a" filter="url(#blur07)"/>
<rect x="390.8" y="464.1" width="21.5" height="9.2" rx="4" fill="#ff0606" filter="url(#blur07)"/>
<g filter="url(#blur2)">
<rect x="414" y="464.3" width="256" height="4" fill="#480508"/>
<ellipse cx="425.10" cy="466.3" rx="9" ry="2.4" fill="#900a12"/>
<ellipse cx="448.75" cy="466.3" rx="9" ry="2.4" fill="#900a12"/>
<ellipse cx="472.40" cy="466.3" rx="9" ry="2.4" fill="#900a12"/>
<ellipse cx="496.05" cy="466.3" rx="9" ry="2.4" fill="#900a12"/>
<ellipse cx="519.70" cy="466.3" rx="9" ry="2.4" fill="#900a12"/>
<ellipse cx="543.35" cy="466.3" rx="9" ry="2.4" fill="#900a12"/>
<ellipse cx="567.00" cy="466.3" rx="9" ry="2.4" fill="#900a12"/>
<ellipse cx="590.65" cy="466.3" rx="9" ry="2.4" fill="#900a12"/>
<ellipse cx="614.30" cy="466.3" rx="9" ry="2.4" fill="#900a12"/>
<ellipse cx="637.95" cy="466.3" rx="9" ry="2.4" fill="#900a12"/>
<ellipse cx="661.60" cy="466.3" rx="9" ry="2.4" fill="#900a12"/>
</g>
<g filter="url(#lblur)" opacity="1.0"><path d="M413.90,354.0 H436.30 V370.3 Q436.30,380.8 425.80,380.8 H424.40 Q413.90,380.8 413.90,370.3 Z" fill="url(#laneg)"/>
<path d="M415.80,367.0 H434.40 V370.40000000000003 Q434.40,378.90000000000003 425.90,378.90000000000003 H424.30 Q415.80,378.90000000000003 415.80,370.40000000000003 Z" fill="url(#gg0_0)" opacity="1.0"/>
</g>
<g filter="url(#lblur)" opacity="1.0"><path d="M437.55,354.0 H459.95 V370.3 Q459.95,380.8 449.45,380.8 H448.05 Q437.55,380.8 437.55,370.3 Z" fill="url(#laneg)"/>
<path d="M439.45,367.0 H458.05 V370.40000000000003 Q458.05,378.90000000000003 449.55,378.90000000000003 H447.95 Q439.45,378.90000000000003 439.45,370.40000000000003 Z" fill="url(#gg0_1)" opacity="0.85"/>
</g>
<g filter="url(#lblur)" opacity="1.0"><path d="M461.20,354.0 H483.60 V370.3 Q483.60,380.8 473.10,380.8 H471.70 Q461.20,380.8 461.20,370.3 Z" fill="url(#laneg)"/>
<path d="M463.10,367.0 H481.70 V370.40000000000003 Q481.70,378.90000000000003 473.20,378.90000000000003 H471.60 Q463.10,378.90000000000003 463.10,370.40000000000003 Z" fill="url(#gg0_2)" opacity="0.8"/>
</g>
<g filter="url(#lblur)" opacity="1.0"><path d="M484.85,354.0 H507.25 V370.3 Q507.25,380.8 496.75,380.8 H495.35 Q484.85,380.8 484.85,370.3 Z" fill="url(#laneg)"/>
<path d="M486.75,367.0 H505.35 V370.40000000000003 Q505.35,378.90000000000003 496.85,378.90000000000003 H495.25 Q486.75,378.90000000000003 486.75,370.40000000000003 Z" fill="url(#gg0_3)" opacity="0.5"/>
</g>
<g filter="url(#lblur)" opacity="0.95"><path d="M508.50,354.0 H530.90 V370.3 Q530.90,380.8 520.40,380.8 H519.00 Q508.50,380.8 508.50,370.3 Z" fill="url(#laneg)"/>
</g>
<g filter="url(#lblur)" opacity="0.9"><path d="M532.15,354.0 H554.55 V370.3 Q554.55,380.8 544.05,380.8 H542.65 Q532.15,380.8 532.15,370.3 Z" fill="url(#laneg)"/>
</g>
<g filter="url(#lblur)" opacity="0.85"><path d="M555.80,354.0 H578.20 V370.3 Q578.20,380.8 567.70,380.8 H566.30 Q555.80,380.8 555.80,370.3 Z" fill="url(#laneg)"/>
</g>
<g filter="url(#lblur)" opacity="0.72"><path d="M579.45,354.0 H601.85 V370.3 Q601.85,380.8 591.35,380.8 H589.95 Q579.45,380.8 579.45,370.3 Z" fill="url(#laneg)"/>
</g>
<g filter="url(#lblur)" opacity="0.6"><path d="M603.10,354.0 H625.50 V370.3 Q625.50,380.8 615.00,380.8 H613.60 Q603.10,380.8 603.10,370.3 Z" fill="url(#laneg)"/>
</g>
<g filter="url(#lblur)" opacity="0.5"><path d="M626.75,354.0 H649.15 V370.3 Q649.15,380.8 638.65,380.8 H637.25 Q626.75,380.8 626.75,370.3 Z" fill="url(#laneg)"/>
</g>
<g filter="url(#lblur)" opacity="0.36"><path d="M650.40,354.0 H672.80 V370.3 Q672.80,380.8 662.30,380.8 H660.90 Q650.40,380.8 650.40,370.3 Z" fill="url(#laneg)"/>
</g>
<rect x="412.2" y="353.5" width="258.3" height="30.2" fill="none" stroke="#e4e4e4" stroke-width="1.2" stroke-dasharray="3 1.4"/>
<text x="530.5" y="403.3" font-size="12.5" text-anchor="middle" fill="#f0f0f0" stroke="#f0f0f0" stroke-width="0.0" >IR-780@albumin</text>
<rect x="389" y="479" width="283.5" height="138.9" fill="#030306"/>
<text x="335" y="566.3" font-size="13.7" text-anchor="middle" fill="#111" stroke="#111" stroke-width="0.1" >IR-808</text>
<text x="382.9" y="519.2" font-size="9.5" text-anchor="end" fill="#1a1a1a" stroke="#1a1a1a" stroke-width="0.1" >60 kDa</text>
<text x="382.9" y="613.9" font-size="9.5" text-anchor="end" fill="#1a1a1a" stroke="#1a1a1a" stroke-width="0.1" >10 kDa</text>
<rect x="393.5" y="510.2" width="15.5" height="2.4" rx="1.3" fill="#500810" filter="url(#blur07)"/>
<rect x="393.5" y="535.5" width="15.5" height="2.6" rx="1.3" fill="#600a10" filter="url(#blur07)"/>
<rect x="393.5" y="565.1" width="15.5" height="3.0" rx="1.3" fill="#900c12" filter="url(#blur07)"/>
<rect x="391" y="589.9" width="18.5" height="5.6" rx="2.8" fill="#ff0a0a" filter="url(#blur07)"/>
<rect x="390.8" y="607.8" width="21.5" height="9.2" rx="4" fill="#ff0606" filter="url(#blur07)"/>
<g filter="url(#blur2)">
<rect x="414" y="607.9" width="256" height="4" fill="#480508"/>
<ellipse cx="425.10" cy="609.9" rx="9" ry="2.4" fill="#980a12"/>
<ellipse cx="448.75" cy="609.9" rx="9" ry="2.4" fill="#980a12"/>
<ellipse cx="472.40" cy="609.9" rx="9" ry="2.4" fill="#980a12"/>
<ellipse cx="496.05" cy="609.9" rx="9" ry="2.4" fill="#980a12"/>
<ellipse cx="519.70" cy="609.9" rx="9" ry="2.4" fill="#980a12"/>
<ellipse cx="543.35" cy="609.9" rx="9" ry="2.4" fill="#980a12"/>
<ellipse cx="567.00" cy="609.9" rx="9" ry="2.4" fill="#980a12"/>
<ellipse cx="590.65" cy="609.9" rx="9" ry="2.4" fill="#980a12"/>
<ellipse cx="614.30" cy="609.9" rx="9" ry="2.4" fill="#980a12"/>
<ellipse cx="637.95" cy="609.9" rx="9" ry="2.4" fill="#980a12"/>
<ellipse cx="661.60" cy="609.9" rx="9" ry="2.4" fill="#980a12"/>
</g>
<g filter="url(#lblur)" opacity="1.0"><path d="M413.90,497.1 H436.30 V512.5 Q436.30,523.0 425.80,523.0 H424.40 Q413.90,523.0 413.90,512.5 Z" fill="url(#laneg2)"/>
<path d="M415.80,505.6 H434.40 V512.6 Q434.40,521.1 425.90,521.1 H424.30 Q415.80,521.1 415.80,512.6 Z" fill="url(#gg1_0)" opacity="1.0"/>
</g>
<g filter="url(#lblur)" opacity="1.0"><path d="M437.55,497.1 H459.95 V512.5 Q459.95,523.0 449.45,523.0 H448.05 Q437.55,523.0 437.55,512.5 Z" fill="url(#laneg2)"/>
<path d="M439.45,505.6 H458.05 V512.6 Q458.05,521.1 449.55,521.1 H447.95 Q439.45,521.1 439.45,512.6 Z" fill="url(#gg1_1)" opacity="1.0"/>
</g>
<g filter="url(#lblur)" opacity="1.0"><path d="M461.20,497.1 H483.60 V512.5 Q483.60,523.0 473.10,523.0 H471.70 Q461.20,523.0 461.20,512.5 Z" fill="url(#laneg2)"/>
<path d="M463.10,505.6 H481.70 V512.6 Q481.70,521.1 473.20,521.1 H471.60 Q463.10,521.1 463.10,512.6 Z" fill="url(#gg1_2)" opacity="1.0"/>
</g>
<g filter="url(#lblur)" opacity="1.0"><path d="M484.85,497.1 H507.25 V512.5 Q507.25,523.0 496.75,523.0 H495.35 Q484.85,523.0 484.85,512.5 Z" fill="url(#laneg2)"/>
<path d="M486.75,505.6 H505.35 V512.6 Q505.35,521.1 496.85,521.1 H495.25 Q486.75,521.1 486.75,512.6 Z" fill="url(#gg1_3)" opacity="1.0"/>
</g>
<g filter="url(#lblur)" opacity="1.0"><path d="M508.50,497.1 H530.90 V512.5 Q530.90,523.0 520.40,523.0 H519.00 Q508.50,523.0 508.50,512.5 Z" fill="url(#laneg2)"/>
<path d="M510.40,505.6 H529.00 V512.6 Q529.00,521.1 520.50,521.1 H518.90 Q510.40,521.1 510.40,512.6 Z" fill="url(#gg1_4)" opacity="0.85"/>
</g>
<g filter="url(#lblur)" opacity="1.0"><path d="M532.15,497.1 H554.55 V512.5 Q554.55,523.0 544.05,523.0 H542.65 Q532.15,523.0 532.15,512.5 Z" fill="url(#laneg2)"/>
<path d="M534.05,505.6 H552.65 V512.6 Q552.65,521.1 544.15,521.1 H542.55 Q534.05,521.1 534.05,512.6 Z" fill="url(#gg1_5)" opacity="0.8"/>
</g>
<g filter="url(#lblur)" opacity="1.0"><path d="M555.80,497.1 H578.20 V512.5 Q578.20,523.0 567.70,523.0 H566.30 Q555.80,523.0 555.80,512.5 Z" fill="url(#laneg2)"/>
<path d="M557.70,505.6 H576.30 V512.6 Q576.30,521.1 567.80,521.1 H566.20 Q557.70,521.1 557.70,512.6 Z" fill="url(#gg1_6)" opacity="0.65"/>
</g>
<g filter="url(#lblur)" opacity="0.8"><path d="M579.45,497.1 H601.85 V512.5 Q601.85,523.0 591.35,523.0 H589.95 Q579.45,523.0 579.45,512.5 Z" fill="url(#laneg2)"/>
</g>
<g filter="url(#lblur)" opacity="0.62"><path d="M603.10,497.1 H625.50 V512.5 Q625.50,523.0 615.00,523.0 H613.60 Q603.10,523.0 603.10,512.5 Z" fill="url(#laneg2)"/>
</g>
<g filter="url(#lblur)" opacity="0.5"><path d="M626.75,497.1 H649.15 V512.5 Q649.15,523.0 638.65,523.0 H637.25 Q626.75,523.0 626.75,512.5 Z" fill="url(#laneg2)"/>
</g>
<g filter="url(#lblur)" opacity="0.25"><path d="M650.40,497.1 H672.80 V512.5 Q672.80,523.0 662.30,523.0 H660.90 Q650.40,523.0 650.40,512.5 Z" fill="url(#laneg2)"/>
</g>
<rect x="412.2" y="496.6" width="258.3" height="30.7" fill="none" stroke="#e4e4e4" stroke-width="1.2" stroke-dasharray="3 1.4"/>
<text x="530.5" y="547.0" font-size="12.5" text-anchor="middle" fill="#f0f0f0" stroke="#f0f0f0" stroke-width="0.0" >IR-808@albumin</text>
<rect x="389" y="622.5" width="283.5" height="138.7" fill="#030306"/>
<text x="335" y="708.7" font-size="13.7" text-anchor="middle" fill="#111" stroke="#111" stroke-width="0.1" >IR-783</text>
<text x="382.9" y="662.7" font-size="9.5" text-anchor="end" fill="#1a1a1a" stroke="#1a1a1a" stroke-width="0.1" >60 kDa</text>
<text x="382.9" y="757.2" font-size="9.5" text-anchor="end" fill="#1a1a1a" stroke="#1a1a1a" stroke-width="0.1" >10 kDa</text>
<rect x="393.5" y="653.8" width="15.5" height="2.4" rx="1.3" fill="#780a10" filter="url(#blur07)"/>
<rect x="393.5" y="679.7" width="15.5" height="2.6" rx="1.3" fill="#880a10" filter="url(#blur07)"/>
<rect x="393.5" y="710.5" width="15.5" height="3.0" rx="1.3" fill="#b00c12" filter="url(#blur07)"/>
<rect x="391" y="733.2" width="18.5" height="5.6" rx="2.8" fill="#ff0a0a" filter="url(#blur07)"/>
<rect x="390.8" y="751.1" width="21.5" height="9.2" rx="4" fill="#ff0606" filter="url(#blur07)"/>
<g filter="url(#blur2)">
<rect x="414" y="751.9" width="256" height="4" fill="#5a0810"/>
<ellipse cx="425.10" cy="753.9" rx="9" ry="2.4" fill="#c00c14"/>
<ellipse cx="448.75" cy="753.9" rx="9" ry="2.4" fill="#c00c14"/>
<ellipse cx="472.40" cy="753.9" rx="9" ry="2.4" fill="#c00c14"/>
<ellipse cx="496.05" cy="753.9" rx="9" ry="2.4" fill="#c00c14"/>
<ellipse cx="519.70" cy="753.9" rx="9" ry="2.4" fill="#c00c14"/>
<ellipse cx="543.35" cy="753.9" rx="9" ry="2.4" fill="#c00c14"/>
<ellipse cx="567.00" cy="753.9" rx="9" ry="2.4" fill="#c00c14"/>
<ellipse cx="590.65" cy="753.9" rx="9" ry="2.4" fill="#c00c14"/>
<ellipse cx="614.30" cy="753.9" rx="9" ry="2.4" fill="#c00c14"/>
<ellipse cx="637.95" cy="753.9" rx="9" ry="2.4" fill="#c00c14"/>
<ellipse cx="661.60" cy="753.9" rx="9" ry="2.4" fill="#c00c14"/>
</g>
<g filter="url(#lblur)" opacity="1.0"><path d="M413.90,644.8 H436.30 V661.3 Q436.30,671.8 425.80,671.8 H424.40 Q413.90,671.8 413.90,661.3 Z" fill="url(#laneg)"/>
<path d="M415.80,661.3 H434.40 V661.4 Q434.40,669.9 425.90,669.9 H424.30 Q415.80,669.9 415.80,661.4 Z" fill="url(#gg2_0)" opacity="0.6"/>
</g>
<g filter="url(#lblur)" opacity="0.62"><path d="M437.55,644.8 H459.95 V661.3 Q459.95,671.8 449.45,671.8 H448.05 Q437.55,671.8 437.55,661.3 Z" fill="url(#laneg3)"/>
</g>
<g filter="url(#lblur)" opacity="0.6"><path d="M461.20,644.8 H483.60 V661.3 Q483.60,671.8 473.10,671.8 H471.70 Q461.20,671.8 461.20,661.3 Z" fill="url(#laneg3)"/>
</g>
<g filter="url(#lblur)" opacity="0.6"><path d="M484.85,644.8 H507.25 V661.3 Q507.25,671.8 496.75,671.8 H495.35 Q484.85,671.8 484.85,661.3 Z" fill="url(#laneg3)"/>
</g>
<g filter="url(#lblur)" opacity="0.58"><path d="M508.50,644.8 H530.90 V661.3 Q530.90,671.8 520.40,671.8 H519.00 Q508.50,671.8 508.50,661.3 Z" fill="url(#laneg3)"/>
</g>
<g filter="url(#lblur)" opacity="0.56"><path d="M532.15,644.8 H554.55 V661.3 Q554.55,671.8 544.05,671.8 H542.65 Q532.15,671.8 532.15,661.3 Z" fill="url(#laneg3)"/>
</g>
<g filter="url(#lblur)" opacity="0.54"><path d="M555.80,644.8 H578.20 V661.3 Q578.20,671.8 567.70,671.8 H566.30 Q555.80,671.8 555.80,661.3 Z" fill="url(#laneg3)"/>
</g>
<g filter="url(#lblur)" opacity="0.45"><path d="M579.45,644.8 H601.85 V661.3 Q601.85,671.8 591.35,671.8 H589.95 Q579.45,671.8 579.45,661.3 Z" fill="url(#laneg3)"/>
</g>
<g filter="url(#lblur)" opacity="0.3"><path d="M603.10,644.8 H625.50 V661.3 Q625.50,671.8 615.00,671.8 H613.60 Q603.10,671.8 603.10,661.3 Z" fill="url(#laneg3)"/>
</g>
<g filter="url(#lblur)" opacity="0.22"><path d="M626.75,644.8 H649.15 V661.3 Q649.15,671.8 638.65,671.8 H637.25 Q626.75,671.8 626.75,661.3 Z" fill="url(#laneg3)"/>
</g>
<g filter="url(#lblur)" opacity="0.14"><path d="M650.40,644.8 H672.80 V661.3 Q672.80,671.8 662.30,671.8 H660.90 Q650.40,671.8 650.40,661.3 Z" fill="url(#laneg3)"/>
</g>
<rect x="412.2" y="644.3" width="258.3" height="31.0" fill="none" stroke="#e4e4e4" stroke-width="1.2" stroke-dasharray="3 1.4"/>
<text x="530.5" y="694.8" font-size="12.5" text-anchor="middle" fill="#f0f0f0" stroke="#f0f0f0" stroke-width="0.0" >IR-783@albumin</text>
<rect x="389" y="766" width="283.5" height="138.8" fill="#030306"/>
<text x="335" y="846.3" font-size="13.7" text-anchor="middle" fill="#111" stroke="#111" stroke-width="0.1" >ICG</text>
<text x="382.9" y="806.2" font-size="9.5" text-anchor="end" fill="#1a1a1a" stroke="#1a1a1a" stroke-width="0.1" >60 kDa</text>
<text x="382.9" y="900.8" font-size="9.5" text-anchor="end" fill="#1a1a1a" stroke="#1a1a1a" stroke-width="0.1" >10 kDa</text>
<rect x="393.5" y="793.8" width="15.5" height="2.4" rx="1.3" fill="#8a0a10" filter="url(#blur07)"/>
<rect x="393.5" y="818.7" width="15.5" height="2.6" rx="1.3" fill="#8a0a10" filter="url(#blur07)"/>
<rect x="393.5" y="848.5" width="15.5" height="3.0" rx="1.3" fill="#c00c14" filter="url(#blur07)"/>
<rect x="391" y="875.0" width="18.5" height="5.6" rx="2.8" fill="#ff0a0a" filter="url(#blur07)"/>
<rect x="390.8" y="890.9" width="21.5" height="9.2" rx="4" fill="#ff0606" filter="url(#blur07)"/>
<g filter="url(#blur2)">
<rect x="414" y="889.2" width="256" height="4" fill="#5a0810"/>
<ellipse cx="425.10" cy="891.2" rx="9" ry="2.4" fill="#a80c14"/>
<ellipse cx="448.75" cy="891.2" rx="9" ry="2.4" fill="#a80c14"/>
<ellipse cx="472.40" cy="891.2" rx="9" ry="2.4" fill="#a80c14"/>
<ellipse cx="496.05" cy="891.2" rx="9" ry="2.4" fill="#a80c14"/>
<ellipse cx="519.70" cy="891.2" rx="9" ry="2.4" fill="#a80c14"/>
<ellipse cx="543.35" cy="891.2" rx="9" ry="2.4" fill="#a80c14"/>
<ellipse cx="567.00" cy="891.2" rx="9" ry="2.4" fill="#a80c14"/>
<ellipse cx="590.65" cy="891.2" rx="9" ry="2.4" fill="#a80c14"/>
<ellipse cx="614.30" cy="891.2" rx="9" ry="2.4" fill="#a80c14"/>
<ellipse cx="637.95" cy="891.2" rx="9" ry="2.4" fill="#a80c14"/>
<ellipse cx="661.60" cy="891.2" rx="9" ry="2.4" fill="#a80c14"/>
</g>
<rect x="414.5" y="893" width="21" height="8.6" rx="4.3" fill="#0a40a0" filter="url(#blur07)"/>
<rect x="415.5" y="893.8" width="19" height="7" rx="3.5" fill="#20e020" filter="url(#blur05)"/>
<rect x="416.3" y="894.4" width="17.4" height="5.8" rx="2.9" fill="#f0ff30" filter="url(#blur05)"/>
<rect x="418.5" y="895.8" width="13" height="3" rx="1.5" fill="#ffffd0" filter="url(#blur05)"/>
<rect x="412.2" y="887.8" width="258.3" height="14" fill="none" stroke="#e4e4e4" stroke-width="1.2" stroke-dasharray="3 1.4"/>
<text x="529.5" y="873.5" font-size="12.5" text-anchor="middle" fill="#f0f0f0" stroke="#f0f0f0" stroke-width="0.0" >ICG</text>
<rect x="677.5" y="851" width="5.5" height="52" fill="url(#cbar)"/>
<rect x="677.5" y="851" width="5.5" height="1.2" fill="#555"/>
</svg></body></html>
